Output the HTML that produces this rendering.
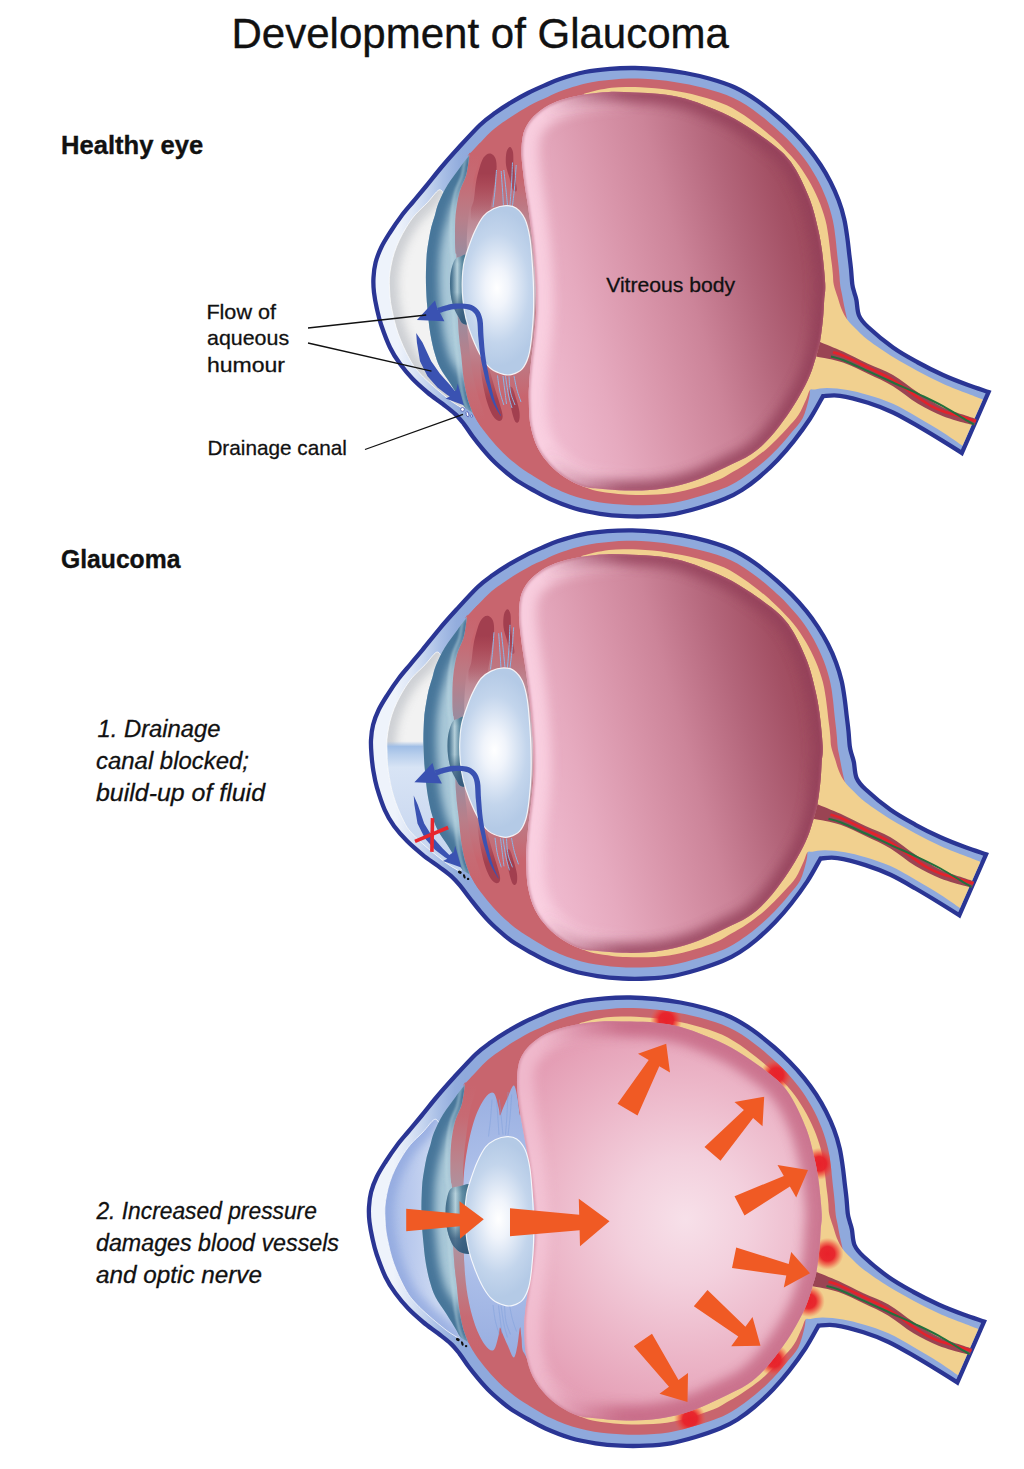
<!DOCTYPE html>
<html><head><meta charset="utf-8"><title>Development of Glaucoma</title>
<style>html,body{margin:0;padding:0;background:#fff}body{width:1024px;height:1469px;overflow:hidden;font-family:"Liberation Sans",sans-serif}svg{display:block}text{font-family:"Liberation Sans",sans-serif}</style></head><body>
<svg width="1024" height="1469" viewBox="0 0 1024 1469"><defs>
<filter id="b1" x="-20%" y="-20%" width="140%" height="140%"><feGaussianBlur stdDeviation="1"/></filter>
<filter id="b5" x="-50%" y="-20%" width="200%" height="140%"><feGaussianBlur stdDeviation="4.5"/></filter>
<filter id="b7" x="-20%" y="-20%" width="140%" height="140%"><feGaussianBlur stdDeviation="5.5"/></filter>
<linearGradient id="scl" gradientUnits="userSpaceOnUse" x1="398" y1="0" x2="470" y2="0">
  <stop offset="0" stop-color="#eef3fb"/><stop offset="0.2" stop-color="#dde6f6"/><stop offset="0.4" stop-color="#c6d5ef"/>
  <stop offset="0.62" stop-color="#a9bfe6"/><stop offset="0.85" stop-color="#93addd"/><stop offset="1" stop-color="#8fa9dc"/>
</linearGradient>
<linearGradient id="vit" gradientUnits="userSpaceOnUse" x1="522" y1="335" x2="826" y2="250">
  <stop offset="0" stop-color="#f0bbd0"/><stop offset="0.2" stop-color="#e6aabf"/><stop offset="0.4" stop-color="#d894a9"/>
  <stop offset="0.55" stop-color="#cc8499"/><stop offset="0.75" stop-color="#b3657a"/><stop offset="0.9" stop-color="#a35064"/><stop offset="1" stop-color="#9c4759"/>
</linearGradient>
<radialGradient id="vit3" gradientUnits="userSpaceOnUse" cx="690" cy="290" r="210">
  <stop offset="0" stop-color="#f7e0e9"/><stop offset="0.3" stop-color="#f3d0dd"/><stop offset="0.65" stop-color="#ecb6c8"/><stop offset="1" stop-color="#e49db4"/>
</radialGradient>
<linearGradient id="post" gradientUnits="userSpaceOnUse" x1="0" y1="150" x2="0" y2="425">
  <stop offset="0" stop-color="#c8656e"/><stop offset="0.1" stop-color="#c8656e"/>
  <stop offset="0.2" stop-color="#bd7782"/><stop offset="0.33" stop-color="#bf9ca8"/>
  <stop offset="0.48" stop-color="#cdbdc8"/><stop offset="0.62" stop-color="#bf9ca8"/>
  <stop offset="0.78" stop-color="#be7883"/><stop offset="0.9" stop-color="#c8656e"/><stop offset="1" stop-color="#c8656e"/>
</linearGradient>
<linearGradient id="post3" gradientUnits="userSpaceOnUse" x1="0" y1="150" x2="0" y2="425">
  <stop offset="0" stop-color="#c8656e"/><stop offset="0.04" stop-color="#b9819a"/>
  <stop offset="0.12" stop-color="#9bb1e2"/><stop offset="0.5" stop-color="#a9bde8"/>
  <stop offset="0.9" stop-color="#9bb1e2"/><stop offset="0.97" stop-color="#b9819a"/><stop offset="1" stop-color="#c8656e"/>
</linearGradient>
<linearGradient id="strkT" gradientUnits="userSpaceOnUse" x1="0" y1="150" x2="0" y2="205">
  <stop offset="0" stop-color="#c8656e"/><stop offset="0.4" stop-color="#cc7a88" stop-opacity="0.9"/><stop offset="1" stop-color="#d8a0b8" stop-opacity="0"/>
</linearGradient>
<linearGradient id="strkB" gradientUnits="userSpaceOnUse" x1="0" y1="426" x2="0" y2="372">
  <stop offset="0" stop-color="#c8656e"/><stop offset="0.4" stop-color="#cc7a88" stop-opacity="0.9"/><stop offset="1" stop-color="#d8a0b8" stop-opacity="0"/>
</linearGradient>
<radialGradient id="blue3" gradientUnits="userSpaceOnUse" cx="500" cy="290" r="140">
  <stop offset="0" stop-color="#c9d6f1"/><stop offset="0.45" stop-color="#aabde8"/><stop offset="1" stop-color="#97ade0"/>
</radialGradient>
<linearGradient id="band1" gradientUnits="userSpaceOnUse" x1="0" y1="155" x2="0" y2="420">
  <stop offset="0" stop-color="#c8656e"/><stop offset="0.1" stop-color="#c66b74"/><stop offset="0.24" stop-color="#b87f8a"/><stop offset="0.38" stop-color="#9a8c9f"/><stop offset="0.5" stop-color="#9690a4"/>
  <stop offset="0.62" stop-color="#9a8c9f"/><stop offset="0.76" stop-color="#b87f8a"/><stop offset="0.9" stop-color="#c66b74"/><stop offset="1" stop-color="#c8656e"/>
</linearGradient>
<linearGradient id="band3" gradientUnits="userSpaceOnUse" x1="0" y1="155" x2="0" y2="420">
  <stop offset="0" stop-color="#c8656e"/><stop offset="0.12" stop-color="#c76a73"/><stop offset="0.3" stop-color="#b98690"/><stop offset="0.5" stop-color="#a3a0b0"/>
  <stop offset="0.7" stop-color="#b98690"/><stop offset="0.88" stop-color="#c76a73"/><stop offset="1" stop-color="#c8656e"/>
</linearGradient>
<linearGradient id="cham3" gradientUnits="userSpaceOnUse" x1="389" y1="0" x2="440" y2="0">
  <stop offset="0" stop-color="#a9bde8"/><stop offset="0.5" stop-color="#b9c9ed"/><stop offset="1" stop-color="#cbd8f2"/>
</linearGradient>
<linearGradient id="fluid" gradientUnits="userSpaceOnUse" x1="0" y1="279" x2="0" y2="410">
  <stop offset="0" stop-color="#a0bee6" stop-opacity="0"/><stop offset="0.04" stop-color="#a0bee6"/><stop offset="0.1" stop-color="#b7ceec"/>
  <stop offset="0.2" stop-color="#d8e4f5"/><stop offset="0.5" stop-color="#d0ddf2"/><stop offset="1" stop-color="#c2d3ee"/>
</linearGradient>
<linearGradient id="cilT" gradientUnits="userSpaceOnUse" x1="0" y1="147" x2="0" y2="222">
  <stop offset="0" stop-color="#a23f4f"/><stop offset="0.35" stop-color="#a23f4f"/><stop offset="1" stop-color="#a23f4f" stop-opacity="0"/>
</linearGradient>
<linearGradient id="cilB" gradientUnits="userSpaceOnUse" x1="0" y1="422" x2="0" y2="360">
  <stop offset="0" stop-color="#a23f4f"/><stop offset="0.35" stop-color="#a23f4f"/><stop offset="1" stop-color="#a23f4f" stop-opacity="0"/>
</linearGradient>
<radialGradient id="lens" gradientUnits="userSpaceOnUse" cx="497" cy="288" r="46" gradientTransform="translate(497 288) scale(1 1.7) translate(-497 -288)">
  <stop offset="0" stop-color="#ffffff"/><stop offset="0.25" stop-color="#f0f4fb"/><stop offset="0.7" stop-color="#c3d5ec"/><stop offset="1" stop-color="#b4cae6"/>
</radialGradient>
<linearGradient id="pup" gradientUnits="userSpaceOnUse" x1="450" y1="0" x2="466" y2="0">
  <stop offset="0" stop-color="#446d8a"/><stop offset="0.12" stop-color="#557f9b"/><stop offset="0.45" stop-color="#cfe6ee"/><stop offset="0.75" stop-color="#6a96ad"/><stop offset="1" stop-color="#4d7a96"/>
</linearGradient>
<linearGradient id="pup3" gradientUnits="userSpaceOnUse" x1="450" y1="0" x2="472" y2="0">
  <stop offset="0" stop-color="#446d8a"/><stop offset="0.12" stop-color="#557f9b"/><stop offset="0.45" stop-color="#cfe6ee"/><stop offset="0.75" stop-color="#6a96ad"/><stop offset="1" stop-color="#4d7a96"/>
</linearGradient>
<linearGradient id="pupv" gradientUnits="userSpaceOnUse" x1="0" y1="256" x2="0" y2="322">
  <stop offset="0" stop-color="#2f5f78" stop-opacity="0.35"/><stop offset="0.12" stop-color="#2f5f78" stop-opacity="0.15"/><stop offset="0.55" stop-color="#2f5f78" stop-opacity="0.2"/><stop offset="0.8" stop-color="#33587a" stop-opacity="0.8"/><stop offset="1" stop-color="#33587a" stop-opacity="0.92"/>
</linearGradient>
<linearGradient id="hg" gradientUnits="userSpaceOnUse" x1="560" y1="0" x2="640" y2="0">
  <stop offset="0" stop-color="#fbd3e3" stop-opacity="1"/><stop offset="1" stop-color="#fbd3e3" stop-opacity="0"/></linearGradient>
<radialGradient id="spot"><stop offset="0" stop-color="#e8212a"/><stop offset="0.45" stop-color="#e8232b" stop-opacity="0.97"/><stop offset="0.7" stop-color="#ee3a34" stop-opacity="0.6"/><stop offset="1" stop-color="#f25a40" stop-opacity="0"/></radialGradient>
</defs><g id="eye1"><path d="M823,396.2C820.8,400 814.9,411.3 810,418.8C805.1,426.3 799.2,434.3 793.8,441.2C788.4,448.1 783.3,453.9 777.5,460C771.7,466.1 764.7,472.5 758.8,477.5C752.9,482.5 747.6,486.4 742,490C736.4,493.6 732,495.9 725,498.8C718,501.7 708.3,505 700,507.5C691.7,510 683.3,512.3 675,513.8C666.7,515.2 658.3,515.8 650,516.2C641.7,516.6 633.3,516.6 625,516.2C616.7,515.8 608.3,515.1 600,513.8C591.7,512.5 583.3,511 575,508.5C566.7,506 557.2,502.2 550,499C542.8,495.8 537.4,492.5 532,489.5C526.6,486.5 521.6,483.7 517.5,481C513.4,478.3 511.2,476.6 507.5,473.5C503.8,470.4 499.2,466.6 495,462.5C490.8,458.4 486.2,453.2 482.5,448.8C478.8,444.4 475.6,440.4 472.5,436.2C469.4,432 466.7,427.5 463.8,423.8C460.9,420.1 458.6,417.1 455,413.8C451.4,410.5 447.1,407.4 442.5,403.8C437.9,400.2 432.5,396.7 427.5,392.5C422.5,388.3 417.1,383.6 412.5,378.8C407.9,374 403.8,369 400,363.8C396.2,358.6 393.1,354 390,347.5C386.9,341 383.4,331.4 381.2,325C379,318.6 378.1,314.2 376.9,308.8C375.7,303.4 374.6,297.7 374,292.5C373.4,287.3 373.2,282.5 373.5,277.5C373.8,272.5 374.3,267.5 375.6,262.5C376.9,257.5 378.8,252.5 381.2,247.5C383.6,242.5 386.7,237.7 390,232.5C393.3,227.3 397.4,221.2 401.2,216.2C404.9,211.2 408.5,207.3 412.5,202.5C416.5,197.7 420.2,193.3 425,187.5C429.8,181.7 435.6,174.2 441.2,167.5C446.8,160.8 452.3,154.6 458.8,147.5C465.3,140.4 474,130.8 480,125C486,119.2 489.7,116.8 495,113C500.3,109.2 506.5,105.2 512,101.9C517.5,98.6 522.7,95.7 528,93C533.3,90.3 538.7,87.9 544,85.6C549.3,83.3 553.2,81.3 560,79C566.8,76.7 576.7,73.7 585,72C593.3,70.3 601.7,69.5 610,68.8C618.3,68.1 626.7,67.9 635,68C643.3,68.1 651.7,68.7 660,69.5C668.3,70.3 676.7,71.5 685,73C693.3,74.5 701.7,76.4 710,78.8C718.3,81.2 727.2,83.9 735,87.5C742.8,91.1 749.8,95.5 757,100.5C764.2,105.5 772.2,112.2 778.4,117.5C784.6,122.8 789.2,127.3 794.3,132.5C799.4,137.7 804.5,143.4 808.9,148.8C813.3,154.2 816.9,159.3 820.5,164.8C824.1,170.3 827.5,176.1 830.5,182C833.5,187.9 836.2,193.9 838.5,200.1C840.8,206.2 842.7,212.5 844.2,218.9C845.7,225.3 846.6,232.5 847.4,238.3C848.2,244.1 848.6,248.6 849.2,253.7C849.8,258.8 850.5,263.9 851,269C851.5,274.1 851.8,280.4 852.3,284.3C852.8,288.2 853.6,289.9 854.3,292.5C855,295.1 855.6,296.2 856.4,300C857.2,303.8 857.1,311 859,315.5C860.9,320 862.3,321.7 868,327C873.7,332.3 884.7,341.6 893,347.5C901.3,353.4 909.7,357.9 918,362.5C926.3,367.1 934.7,371.2 943,375C951.3,378.8 960.4,382.2 968,385C975.6,387.8 985.2,390.8 988.6,392L961.8,453C958.7,451 950.3,445.7 943,441.2C935.7,436.7 926.3,431 918,426.2C909.7,421.4 901.3,416.4 893,412.5C884.7,408.6 876.8,405.6 868,402.8C859.2,400 847.5,396.9 840,395.8C832.5,394.7 825.8,396.1 823,396.2Z" fill="url(#scl)" stroke="#2a3594" stroke-width="4.3" stroke-linejoin="miter"/>
<clipPath id="rca"><path d="M810,390C809.8,391.5 810,394.3 808.8,399C807.6,403.7 805.5,412.6 802.8,418C800,423.5 795.8,427.3 792.3,431.6C788.9,435.9 785.5,439.9 782,443.7C778.6,447.5 775.4,450.9 771.7,454.4C768,458 763.8,461.7 759.9,465C756.1,468.2 752.2,471.2 748.7,473.8C745.2,476.4 742,478.5 738.7,480.5C735.5,482.5 732.8,484.1 729.4,485.8C726,487.4 722.9,488.7 718.5,490.3C714.1,491.9 708.3,493.8 703.2,495.3C698,496.9 692.8,498.4 687.8,499.7C682.7,501 678,502.1 673.1,502.9C668.2,503.7 663.5,504.1 658.5,504.5C653.6,504.9 648.5,505.1 643.5,505.2C638.5,505.3 633.5,505.3 628.5,505.1C623.5,504.9 618.5,504.6 613.5,504.1C608.6,503.6 603.6,503 598.7,502.2C593.8,501.3 588.9,500.4 584,499.1C579.1,497.8 574.2,496.2 569.3,494.4C564.5,492.6 559,490.3 554.8,488.3C550.6,486.3 547.5,484.4 544.1,482.4C540.7,480.5 537.2,478.3 534.1,476.5C531.1,474.6 528.2,472.8 525.8,471.3C523.5,469.8 522,468.8 520,467.3C518.1,465.9 516.3,464.4 514.1,462.6C511.9,460.8 509.1,458.5 506.7,456.3C504.2,454 501.8,451.6 499.4,449C496.9,446.4 494.3,443.3 492,440.7C489.8,438 487.8,435.7 485.9,433.2C484,430.7 482.8,429.4 480.5,425.9C478.3,422.5 477.6,421.8 472.5,412.5C467.4,403.2 455.1,391.2 450,370C444.9,348.8 442,313.3 442,285C442,256.7 445.4,221.7 450,200C454.6,178.3 466.4,162.3 469.4,155C472.4,147.7 466,158.2 468,155.9C470,153.6 477.4,145.6 481.4,141.4C485.5,137.1 489.1,133.4 492.2,130.6C495.3,127.8 497.3,126.5 500.2,124.3C503.2,122.2 506.7,119.7 510.1,117.5C513.4,115.2 516.9,113 520.2,111C523.5,109.1 526.5,107.3 529.6,105.6C532.8,103.9 535.8,102.4 539,100.8C542.2,99.3 545.6,97.8 548.7,96.4C551.9,94.9 554.4,93.6 557.8,92.3C561.2,90.9 564.6,89.7 569.1,88.2C573.5,86.8 579.4,85 584.4,83.8C589.3,82.6 593.9,81.8 598.8,81C603.8,80.3 608.9,79.8 613.9,79.4C618.9,79 623.8,78.6 628.8,78.5C633.8,78.4 638.8,78.6 643.8,78.8C648.9,79 653.9,79.5 659,80C664,80.5 669,81.1 674.1,81.9C679.1,82.6 684.1,83.5 689.1,84.6C694.1,85.6 699,86.8 704.1,88.1C709.1,89.5 714.5,90.9 719.4,92.5C724.3,94.2 728.9,95.9 733.4,98C737.8,100.1 741.9,102.4 746.2,105.1C750.5,107.9 755,111.1 759.3,114.4C763.6,117.6 768.3,121.6 772.1,124.9C775.8,128.1 778.8,130.8 781.9,133.8C785.1,136.9 788.1,139.9 791.1,143.1C794.1,146.3 797.2,149.7 799.8,152.9C802.5,156.2 804.8,159.2 807.1,162.5C809.3,165.7 811.3,168.9 813.3,172.3C815.3,175.6 817.3,179.1 819.1,182.6C820.9,186.1 822.5,189.6 824,193.2C825.6,196.7 826.9,200.3 828.2,203.9C829.4,207.6 830.6,211.2 831.5,214.9C832.5,218.5 833.3,222.1 833.9,225.9C834.6,229.7 835,234.1 835.5,237.7C835.9,241.3 836.2,244.3 836.5,247.6C836.9,250.8 837.1,253.9 837.5,257.1C837.8,260.2 838.3,263.4 838.6,266.5C838.9,269.7 839.2,272.7 839.5,275.9C839.7,279.1 839.8,282.6 840.3,286C840.8,289.3 841.6,292.3 842.3,296C843,299.7 843.8,304.1 844.6,308C845.4,311.9 846.8,317.6 847.2,319.5Z"/><path d="M584,93.8C586.2,93.2 592.4,91.3 597,90.3C601.6,89.3 606.7,88.3 611.5,87.7C616.3,87.2 621.2,87.1 626,87C630.8,86.9 635.7,87 640.5,87.2C645.4,87.4 650.2,87.8 655.1,88.3C660,88.8 665,89.3 669.9,90.1C674.7,90.8 679.6,91.6 684.4,92.6C689.3,93.6 694,94.7 698.9,95.9C703.8,97.2 708.9,98.7 713.6,100.2C718.2,101.8 722.7,103.3 726.8,105.2C731,107.1 734.6,109.2 738.5,111.7C742.5,114.1 746.6,116.9 750.8,119.9C755,123 759.8,126.8 763.7,129.9C767.5,133 770.7,135.7 773.9,138.6C777.1,141.5 779.9,144.2 782.9,147.2C785.8,150.2 789,153.5 791.7,156.5C794.4,159.6 796.8,162.5 799.1,165.5C801.3,168.6 803.3,171.5 805.3,174.7C807.3,177.8 809.3,181.1 811.1,184.4C812.9,187.7 814.6,191 816.1,194.4C817.7,197.7 819.1,201.1 820.4,204.5C821.7,207.9 822.9,211.4 823.9,214.8C825,218.2 825.8,221.5 826.6,225.1C827.3,228.6 827.8,232.7 828.4,236.3C828.9,239.9 829.3,243.2 829.7,246.5C830.1,249.8 830.4,252.7 830.7,255.8C831.1,259 831.6,262.4 832,265.5C832.3,268.5 832.6,271.2 832.9,274.4C833.2,277.6 833,281 833.8,284.7C834.6,288.5 836.3,293 837.6,297C838.9,301 839.9,305.2 841.5,309C843.1,312.8 844.8,316.2 847.2,319.5C849.6,322.8 852.5,325.6 856,329C859.5,332.4 861.8,335.3 868,340C874.2,344.7 884.7,351.8 893,357C901.3,362.2 909.7,366.7 918,371.2C926.3,375.7 934.7,380 943,383.8C951.3,387.6 961.4,391.2 968,393.8C974.6,396.4 980.3,398.6 982.8,399.6L962.5,445.8C959.2,443.6 950.4,437.2 943,432.5C935.6,427.8 926.3,422.3 918,417.5C909.7,412.7 901.3,407.6 893,403.8C884.7,400.1 875.6,397.3 868,395C860.4,392.7 854.2,391.2 847.5,390C840.8,388.8 832.9,388.1 827.5,388C822.1,387.9 817.9,389.1 815,389.4C812.1,389.7 811.5,388.4 810,390C808.5,391.6 808.2,394.8 806.3,399C804.4,403.2 801.5,410.3 798.4,415.1C795.3,419.9 791.1,423.9 787.5,428C783.9,432 780.4,435.8 776.8,439.3C773.3,442.9 770.1,446 766.3,449.2C762.5,452.4 758,455.7 754.1,458.6C750.2,461.4 746.2,464.1 742.6,466.3C739.1,468.5 736,470 733,471.8C730,473.5 727.7,475.2 724.7,476.7C721.7,478.3 718.9,479.5 714.9,481.1C710.8,482.7 705.2,484.7 700.2,486.3C695.3,487.8 690,489.3 685.2,490.5C680.4,491.7 676,492.6 671.4,493.3C666.9,494 662.5,494.3 657.8,494.6C653.1,494.9 648.1,495 643.2,495C638.4,495 633.7,495 628.9,494.7C624.1,494.5 619.9,494.2 614.5,493.6C609.2,493 602.3,492.2 597,491C591.7,489.8 584.9,487 582.5,486.2Z"/></clipPath>
<path d="M810,390C809.8,391.5 810,394.3 808.8,399C807.6,403.7 805.5,412.6 802.8,418C800,423.5 795.8,427.3 792.3,431.6C788.9,435.9 785.5,439.9 782,443.7C778.6,447.5 775.4,450.9 771.7,454.4C768,458 763.8,461.7 759.9,465C756.1,468.2 752.2,471.2 748.7,473.8C745.2,476.4 742,478.5 738.7,480.5C735.5,482.5 732.8,484.1 729.4,485.8C726,487.4 722.9,488.7 718.5,490.3C714.1,491.9 708.3,493.8 703.2,495.3C698,496.9 692.8,498.4 687.8,499.7C682.7,501 678,502.1 673.1,502.9C668.2,503.7 663.5,504.1 658.5,504.5C653.6,504.9 648.5,505.1 643.5,505.2C638.5,505.3 633.5,505.3 628.5,505.1C623.5,504.9 618.5,504.6 613.5,504.1C608.6,503.6 603.6,503 598.7,502.2C593.8,501.3 588.9,500.4 584,499.1C579.1,497.8 574.2,496.2 569.3,494.4C564.5,492.6 559,490.3 554.8,488.3C550.6,486.3 547.5,484.4 544.1,482.4C540.7,480.5 537.2,478.3 534.1,476.5C531.1,474.6 528.2,472.8 525.8,471.3C523.5,469.8 522,468.8 520,467.3C518.1,465.9 516.3,464.4 514.1,462.6C511.9,460.8 509.1,458.5 506.7,456.3C504.2,454 501.8,451.6 499.4,449C496.9,446.4 494.3,443.3 492,440.7C489.8,438 487.8,435.7 485.9,433.2C484,430.7 482.8,429.4 480.5,425.9C478.3,422.5 477.6,421.8 472.5,412.5C467.4,403.2 455.1,391.2 450,370C444.9,348.8 442,313.3 442,285C442,256.7 445.4,221.7 450,200C454.6,178.3 466.4,162.3 469.4,155C472.4,147.7 466,158.2 468,155.9C470,153.6 477.4,145.6 481.4,141.4C485.5,137.1 489.1,133.4 492.2,130.6C495.3,127.8 497.3,126.5 500.2,124.3C503.2,122.2 506.7,119.7 510.1,117.5C513.4,115.2 516.9,113 520.2,111C523.5,109.1 526.5,107.3 529.6,105.6C532.8,103.9 535.8,102.4 539,100.8C542.2,99.3 545.6,97.8 548.7,96.4C551.9,94.9 554.4,93.6 557.8,92.3C561.2,90.9 564.6,89.7 569.1,88.2C573.5,86.8 579.4,85 584.4,83.8C589.3,82.6 593.9,81.8 598.8,81C603.8,80.3 608.9,79.8 613.9,79.4C618.9,79 623.8,78.6 628.8,78.5C633.8,78.4 638.8,78.6 643.8,78.8C648.9,79 653.9,79.5 659,80C664,80.5 669,81.1 674.1,81.9C679.1,82.6 684.1,83.5 689.1,84.6C694.1,85.6 699,86.8 704.1,88.1C709.1,89.5 714.5,90.9 719.4,92.5C724.3,94.2 728.9,95.9 733.4,98C737.8,100.1 741.9,102.4 746.2,105.1C750.5,107.9 755,111.1 759.3,114.4C763.6,117.6 768.3,121.6 772.1,124.9C775.8,128.1 778.8,130.8 781.9,133.8C785.1,136.9 788.1,139.9 791.1,143.1C794.1,146.3 797.2,149.7 799.8,152.9C802.5,156.2 804.8,159.2 807.1,162.5C809.3,165.7 811.3,168.9 813.3,172.3C815.3,175.6 817.3,179.1 819.1,182.6C820.9,186.1 822.5,189.6 824,193.2C825.6,196.7 826.9,200.3 828.2,203.9C829.4,207.6 830.6,211.2 831.5,214.9C832.5,218.5 833.3,222.1 833.9,225.9C834.6,229.7 835,234.1 835.5,237.7C835.9,241.3 836.2,244.3 836.5,247.6C836.9,250.8 837.1,253.9 837.5,257.1C837.8,260.2 838.3,263.4 838.6,266.5C838.9,269.7 839.2,272.7 839.5,275.9C839.7,279.1 839.8,282.6 840.3,286C840.8,289.3 841.6,292.3 842.3,296C843,299.7 843.8,304.1 844.6,308C845.4,311.9 846.8,317.6 847.2,319.5Z" fill="#c8656e"/>
<path d="M584,93.8C586.2,93.2 592.4,91.3 597,90.3C601.6,89.3 606.7,88.3 611.5,87.7C616.3,87.2 621.2,87.1 626,87C630.8,86.9 635.7,87 640.5,87.2C645.4,87.4 650.2,87.8 655.1,88.3C660,88.8 665,89.3 669.9,90.1C674.7,90.8 679.6,91.6 684.4,92.6C689.3,93.6 694,94.7 698.9,95.9C703.8,97.2 708.9,98.7 713.6,100.2C718.2,101.8 722.7,103.3 726.8,105.2C731,107.1 734.6,109.2 738.5,111.7C742.5,114.1 746.6,116.9 750.8,119.9C755,123 759.8,126.8 763.7,129.9C767.5,133 770.7,135.7 773.9,138.6C777.1,141.5 779.9,144.2 782.9,147.2C785.8,150.2 789,153.5 791.7,156.5C794.4,159.6 796.8,162.5 799.1,165.5C801.3,168.6 803.3,171.5 805.3,174.7C807.3,177.8 809.3,181.1 811.1,184.4C812.9,187.7 814.6,191 816.1,194.4C817.7,197.7 819.1,201.1 820.4,204.5C821.7,207.9 822.9,211.4 823.9,214.8C825,218.2 825.8,221.5 826.6,225.1C827.3,228.6 827.8,232.7 828.4,236.3C828.9,239.9 829.3,243.2 829.7,246.5C830.1,249.8 830.4,252.7 830.7,255.8C831.1,259 831.6,262.4 832,265.5C832.3,268.5 832.6,271.2 832.9,274.4C833.2,277.6 833,281 833.8,284.7C834.6,288.5 836.3,293 837.6,297C838.9,301 839.9,305.2 841.5,309C843.1,312.8 844.8,316.2 847.2,319.5C849.6,322.8 852.5,325.6 856,329C859.5,332.4 861.8,335.3 868,340C874.2,344.7 884.7,351.8 893,357C901.3,362.2 909.7,366.7 918,371.2C926.3,375.7 934.7,380 943,383.8C951.3,387.6 961.4,391.2 968,393.8C974.6,396.4 980.3,398.6 982.8,399.6L962.5,445.8C959.2,443.6 950.4,437.2 943,432.5C935.6,427.8 926.3,422.3 918,417.5C909.7,412.7 901.3,407.6 893,403.8C884.7,400.1 875.6,397.3 868,395C860.4,392.7 854.2,391.2 847.5,390C840.8,388.8 832.9,388.1 827.5,388C822.1,387.9 817.9,389.1 815,389.4C812.1,389.7 811.5,388.4 810,390C808.5,391.6 808.2,394.8 806.3,399C804.4,403.2 801.5,410.3 798.4,415.1C795.3,419.9 791.1,423.9 787.5,428C783.9,432 780.4,435.8 776.8,439.3C773.3,442.9 770.1,446 766.3,449.2C762.5,452.4 758,455.7 754.1,458.6C750.2,461.4 746.2,464.1 742.6,466.3C739.1,468.5 736,470 733,471.8C730,473.5 727.7,475.2 724.7,476.7C721.7,478.3 718.9,479.5 714.9,481.1C710.8,482.7 705.2,484.7 700.2,486.3C695.3,487.8 690,489.3 685.2,490.5C680.4,491.7 676,492.6 671.4,493.3C666.9,494 662.5,494.3 657.8,494.6C653.1,494.9 648.1,495 643.2,495C638.4,495 633.7,495 628.9,494.7C624.1,494.5 619.9,494.2 614.5,493.6C609.2,493 602.3,492.2 597,491C591.7,489.8 584.9,487 582.5,486.2Z" fill="#f1d08f"/>
<path d="M820,341.9C823.8,343.5 835,347.9 843,351.5C851,355.1 859.7,359.9 868,363.8C876.3,367.7 884.7,370.2 893,375C901.3,379.8 909.7,387.1 918,392.5C926.3,397.9 934.7,403.6 943,407.5C951.3,411.4 962.4,414.3 968,416.2C973.6,418.1 975.1,418.5 976.5,419L974.5,425.3C973.4,425.1 973.2,425.3 968,423.8C962.8,422.3 951.3,419.5 943,416.2C934.7,412.9 926.3,408.8 918,403.8C909.7,398.8 901.3,391.2 893,386.2C884.7,381.2 876.3,377.8 868,373.8C859.7,369.9 851.6,365.4 843,362.5C834.4,359.6 820.7,357.5 816.2,356.5Z" fill="#9a4453"/>
<path d="M833,352.3C834.7,352.8 837.2,353 843,355.5C848.8,358 859.7,363.4 868,367.5C876.3,371.6 884.7,375 893,380C901.3,385 911.8,393.2 918,397.5C924.2,401.8 926.3,403.3 930.5,405.6C934.7,407.9 936.8,409 943,411.2C949.2,413.4 962.5,417.1 968,418.8C973.5,420.5 974.7,420.9 976,421.3" fill="none" stroke="#e3222b" stroke-width="2.6"/>
<path d="M831,356.5C833,357.1 836.8,357.6 843,360C849.2,362.4 859.7,367.4 868,371.2C876.3,374.9 884.7,378.7 893,382.5C901.3,386.3 909.7,389.9 918,393.8C926.3,397.8 934.7,401.6 943,406.2C951.3,410.8 962.8,418.1 968,421.2C973.2,424.3 973,424 974,424.6" fill="none" stroke="#23703d" stroke-width="2"/>
<g clip-path="url(#rca)">
<path d="M469.4,155C471.7,149.7 471.3,143.8 480,143C488.7,142.2 514.2,143.8 521.5,150C528.8,156.2 523,170.8 524,180C525,189.2 526.4,195.4 527.8,205C529.2,214.6 530.8,223.8 532.2,237.5C533.6,251.2 535.7,270.8 536,287.5C536.3,304.2 535.1,321.6 534,337.5C532.9,353.4 529.8,368.4 529.2,383C528.6,397.6 538.3,417.6 530.5,425C522.7,432.4 492.2,429.6 482.5,427.5C472.8,425.4 475.6,420.4 472.5,412.5C469.4,404.6 466.2,395.2 463.8,380C461.4,364.8 459.2,341.4 458,321C456.8,300.6 456.9,275.2 456.5,257.5C456.1,239.8 455.1,225.9 455.6,215C456.1,204.1 457.7,198.7 459.5,192C461.3,185.3 464.6,181.2 466.2,175C467.8,168.8 467.1,160.3 469.4,155Z" fill="url(#post)"/>
<path d="M472.5,412.5C469.6,409 468.9,404.2 467.5,398.8C466.1,393.4 464.9,387.3 463.8,380C462.8,372.7 461.9,361.7 461.2,355C460.5,348.3 459.9,345.7 459.4,340C458.9,334.3 458.4,329.3 458,321C457.6,312.7 457.2,300.6 457,290C456.8,279.4 456.7,263.8 456.5,257.5C456.3,251.2 455.9,255.4 455.6,252.5C455.4,249.6 455,246.2 455,240C455,233.8 454.9,223 455.6,215C456.4,207 457.7,198.7 459.5,192C461.3,185.3 464.6,181.2 466.2,175C467.8,168.8 467.1,158.3 469.4,155C471.7,151.7 479.3,150.8 480,155C480.7,159.2 475.2,172.1 473.5,180.5C471.8,188.9 470.9,197.2 469.8,205.5C468.8,213.8 467.7,221.9 467.2,230.5C466.7,239.1 466.8,241.9 466.8,257C466.8,272.1 466.6,306.3 467,321C467.4,335.7 468.2,336.8 469,345C469.8,353.2 470.7,362.2 472,370C473.3,377.8 474.8,383.7 477,392C479.2,400.3 485.8,416.6 485,420C484.2,423.4 475.4,416 472.5,412.5Z" fill="url(#band1)"/>
<path d="M491.2,153.8C492.8,154.4 494.7,156.1 495.6,158.8C496.5,161.5 496.8,165.2 496.5,170C496.2,174.8 494.9,181.7 494,187.5C493.1,193.3 492.2,199.2 491,205C489.8,210.8 490,219.2 487,222C484,224.8 475.7,224 473,222C470.3,220 470.9,213.7 471,210C471.1,206.3 472.9,204.8 473.8,200C474.7,195.2 475,187.4 476.2,181.2C477.4,174.9 479.6,166.9 481.2,162.5C482.8,158.1 484.3,156.4 486,155C487.7,153.6 489.6,153.2 491.2,153.8Z" fill="url(#cilT)"/>
<path d="M510,147C511.1,147 512.4,149 513,152C513.6,155 513.2,160.7 513.5,165C513.8,169.3 514.4,173.8 515,178C515.6,182.2 517.3,188 517,190C516.7,192 514.2,192 513,190C511.8,188 510.7,182.2 509.5,178C508.3,173.8 506.5,169.3 506,165C505.5,160.7 505.8,155 506.5,152C507.2,149 508.9,147 510,147Z" fill="url(#cilT)"/>
<path d="M486.5,360C488.2,362.5 489.4,369.7 491,375C492.6,380.3 494.2,386.2 496,392C497.8,397.8 500.4,405.7 501.5,410C502.6,414.3 502.9,416.2 502.5,418C502.1,419.8 500.6,421.3 499,421C497.4,420.7 494.8,418.7 493,416C491.2,413.3 489.5,409.3 488,405C486.5,400.7 485.2,395.5 484,390C482.8,384.5 481.6,377 481,372C480.4,367 479.6,362 480.5,360C481.4,358 484.8,357.5 486.5,360Z" fill="url(#cilB)"/>
<path d="M509,388C509.4,386 511.2,386 512.5,388C513.8,390 515.3,396 516.5,400C517.7,404 519.1,408.5 519.5,412C519.9,415.5 519.7,419.3 519,421C518.3,422.7 516.7,423.5 515.5,422C514.3,420.5 512.9,415.7 512,412C511.1,408.3 510.5,404 510,400C509.5,396 508.6,390 509,388Z" fill="url(#cilB)"/>
<path d="M496.5,170C496.2,173.3 495.6,183.8 495,190C494.4,196.2 493.3,204.2 493,207" fill="none" stroke="#8cb6e6" stroke-width="1"/>
<path d="M501.2,171C501.4,174.2 502.1,184.2 502.5,190C502.9,195.8 503.3,202.9 503.5,205.5" fill="none" stroke="#8cb6e6" stroke-width="1"/>
<path d="M503.8,170C504.2,173.3 505.4,184.1 506,190C506.6,195.9 507.2,202.7 507.5,205.2" fill="none" stroke="#8cb6e6" stroke-width="1"/>
<path d="M512.5,162.5C512.3,166.2 511.9,177.9 511.5,185C511.1,192.1 510.2,201.9 510,205.3" fill="none" stroke="#8cb6e6" stroke-width="1"/>
<path d="M516.2,165C515.9,168.8 515.1,181.2 514.5,188C513.9,194.8 512.8,202.8 512.5,205.8" fill="none" stroke="#8cb6e6" stroke-width="1"/>
<path d="M497.5,375.5C497.9,378.2 498.9,387.1 500,392C501.1,396.9 503.2,402.8 503.8,405" fill="none" stroke="#8cb6e6" stroke-width="1"/>
<path d="M503,376C503.3,378.7 504.4,387.3 505,392C505.6,396.7 506.2,402 506.5,404" fill="none" stroke="#8cb6e6" stroke-width="1"/>
<path d="M509,376.3C509.2,378.9 509.5,387.2 510.5,392C511.5,396.8 514.2,402.8 515,405" fill="none" stroke="#8cb6e6" stroke-width="1"/>
<path d="M514,375.8C514.5,378.2 515.8,385.6 517,390C518.2,394.4 520.3,400 521,402" fill="none" stroke="#8cb6e6" stroke-width="1"/>
<path d="M505.5,376.2C506,379.3 507.4,389.7 508.5,395C509.6,400.3 511.4,405.8 512,408" fill="none" stroke="#8cb6e6" stroke-width="1"/>
</g>
<linearGradient id="sga" gradientUnits="userSpaceOnUse" x1="545" y1="0" x2="625" y2="0"><stop offset="0" stop-color="#93405a" stop-opacity="0"/><stop offset="1" stop-color="#93405a" stop-opacity="1"/></linearGradient>
<clipPath id="vca"><path d="M584,94.5C591.3,93.3 600.5,92.2 609,91.9C617.5,91.6 626.5,92.2 635,92.5C643.5,92.8 651.7,93 660,94C668.3,95 676.7,96.2 685,98.5C693.3,100.8 701.7,104.1 710,107.5C718.3,110.9 726.7,114.4 735,119C743.3,123.6 752.2,129.5 760,135C767.8,140.5 775.9,146.2 781.9,152C787.9,157.8 791.3,162 796,170C800.7,178 806.4,190.6 810,200C813.6,209.4 815.5,218.4 817.5,226.7C819.5,235 820.6,240.5 821.9,250C823.2,259.5 824.8,275.3 825.2,283.6C825.6,291.9 824.6,294.1 824.2,300C823.8,305.9 823.7,311.8 823,318.8C822.3,325.8 821.1,335.7 820,341.9C818.9,348.1 817.9,350.7 816.2,356.2C814.5,361.7 812.7,368.5 810,375C807.3,381.5 803.8,388.3 800,395C796.2,401.7 792.5,407.9 787.5,415C782.5,422.1 776,431 770,437.5C764,444 759,449 751.5,454C744,459 733.6,463.4 725,467.5C716.4,471.6 708.3,475.7 700,478.8C691.7,481.9 683.3,484.3 675,486.2C666.7,488.1 658.3,489.3 650,490C641.7,490.7 633.3,490.7 625,490.5C616.7,490.3 607.1,489.5 600,488.8C592.9,488.1 588.3,488.1 582.5,486.2C576.7,484.3 570.4,481 565,477.5C559.6,474 554.6,470 550,465C545.4,460 540.8,454.2 537.5,447.5C534.2,440.8 532,432.9 530.5,425C529,417.1 529,407 528.8,400C528.6,393 528.8,389.2 529.2,383C529.6,376.8 530.2,370.1 531,362.5C531.8,354.9 533.2,345.8 534,337.5C534.8,329.2 535.7,320.8 536,312.5C536.3,304.2 536.2,295.8 536,287.5C535.8,279.2 535.1,270.8 534.5,262.5C533.9,254.2 533.3,247.1 532.2,237.5C531.1,227.9 529.2,214.6 527.8,205C526.4,195.4 525,188.3 524,180C523,171.7 521.7,162.3 521.5,155C521.3,147.7 521.8,141.4 522.8,136.2C523.8,131 525.5,127.5 527.8,123.8C530.1,120.1 533,116.9 536.5,113.8C540,110.7 544.2,107.5 549,105C553.8,102.5 559.4,100.5 565.2,98.8C571,97 576.7,95.7 584,94.5Z"/></clipPath>
<path d="M584,94.5C591.3,93.3 600.5,92.2 609,91.9C617.5,91.6 626.5,92.2 635,92.5C643.5,92.8 651.7,93 660,94C668.3,95 676.7,96.2 685,98.5C693.3,100.8 701.7,104.1 710,107.5C718.3,110.9 726.7,114.4 735,119C743.3,123.6 752.2,129.5 760,135C767.8,140.5 775.9,146.2 781.9,152C787.9,157.8 791.3,162 796,170C800.7,178 806.4,190.6 810,200C813.6,209.4 815.5,218.4 817.5,226.7C819.5,235 820.6,240.5 821.9,250C823.2,259.5 824.8,275.3 825.2,283.6C825.6,291.9 824.6,294.1 824.2,300C823.8,305.9 823.7,311.8 823,318.8C822.3,325.8 821.1,335.7 820,341.9C818.9,348.1 817.9,350.7 816.2,356.2C814.5,361.7 812.7,368.5 810,375C807.3,381.5 803.8,388.3 800,395C796.2,401.7 792.5,407.9 787.5,415C782.5,422.1 776,431 770,437.5C764,444 759,449 751.5,454C744,459 733.6,463.4 725,467.5C716.4,471.6 708.3,475.7 700,478.8C691.7,481.9 683.3,484.3 675,486.2C666.7,488.1 658.3,489.3 650,490C641.7,490.7 633.3,490.7 625,490.5C616.7,490.3 607.1,489.5 600,488.8C592.9,488.1 588.3,488.1 582.5,486.2C576.7,484.3 570.4,481 565,477.5C559.6,474 554.6,470 550,465C545.4,460 540.8,454.2 537.5,447.5C534.2,440.8 532,432.9 530.5,425C529,417.1 529,407 528.8,400C528.6,393 528.8,389.2 529.2,383C529.6,376.8 530.2,370.1 531,362.5C531.8,354.9 533.2,345.8 534,337.5C534.8,329.2 535.7,320.8 536,312.5C536.3,304.2 536.2,295.8 536,287.5C535.8,279.2 535.1,270.8 534.5,262.5C533.9,254.2 533.3,247.1 532.2,237.5C531.1,227.9 529.2,214.6 527.8,205C526.4,195.4 525,188.3 524,180C523,171.7 521.7,162.3 521.5,155C521.3,147.7 521.8,141.4 522.8,136.2C523.8,131 525.5,127.5 527.8,123.8C530.1,120.1 533,116.9 536.5,113.8C540,110.7 544.2,107.5 549,105C553.8,102.5 559.4,100.5 565.2,98.8C571,97 576.7,95.7 584,94.5Z" fill="url(#vit)"/>
<g clip-path="url(#vca)"><path d="M675,486.2C670.8,486.8 658.3,489.3 650,490C641.7,490.7 633.3,490.7 625,490.5C616.7,490.3 607.1,489.5 600,488.8C592.9,488.1 588.3,488.1 582.5,486.2C576.7,484.3 570.4,481 565,477.5C559.6,474 554.6,470 550,465C545.4,460 540.8,454.2 537.5,447.5C534.2,440.8 532,432.9 530.5,425C529,417.1 529,407 528.8,400C528.6,393 528.8,389.2 529.2,383C529.6,376.8 530.2,370.1 531,362.5C531.8,354.9 533.2,345.8 534,337.5C534.8,329.2 535.7,320.8 536,312.5C536.3,304.2 536.2,295.8 536,287.5C535.8,279.2 535.1,270.8 534.5,262.5C533.9,254.2 533.3,247.1 532.2,237.5C531.1,227.9 529.2,214.6 527.8,205C526.4,195.4 525,188.3 524,180C523,171.7 521.7,162.3 521.5,155C521.3,147.7 521.8,141.4 522.8,136.2C523.8,131 525.5,127.5 527.8,123.8C530.1,120.1 533,116.9 536.5,113.8C540,110.7 544.2,107.5 549,105C553.8,102.5 559.4,100.5 565.2,98.8C571,97 576.7,95.7 584,94.5C591.3,93.3 600.5,92.2 609,91.9C617.5,91.6 626.5,92.2 635,92.5C643.5,92.8 655.8,93.8 660,94" fill="none" stroke="url(#hg)" stroke-width="34" opacity="0.85" filter="url(#b7)"/></g>
<g clip-path="url(#vca)"><path d="M527.8,123.8C529.2,122.1 533,116.9 536.5,113.8C540,110.7 544.2,107.5 549,105C553.8,102.5 559.4,100.5 565.2,98.8C571,97 576.7,95.7 584,94.5C591.3,93.3 600.5,92.2 609,91.9C617.5,91.6 626.5,92.2 635,92.5C643.5,92.8 651.7,93 660,94C668.3,95 676.7,96.2 685,98.5C693.3,100.8 701.7,104.1 710,107.5C718.3,110.9 726.7,114.4 735,119C743.3,123.6 752.2,129.5 760,135C767.8,140.5 775.9,146.2 781.9,152C787.9,157.8 791.3,162 796,170C800.7,178 806.4,190.6 810,200C813.6,209.4 815.5,218.4 817.5,226.7C819.5,235 820.6,240.5 821.9,250C823.2,259.5 824.8,275.3 825.2,283.6C825.6,291.9 824.6,294.1 824.2,300C823.8,305.9 823.7,311.8 823,318.8C822.3,325.8 821.1,335.7 820,341.9C818.9,348.1 817.9,350.7 816.2,356.2C814.5,361.7 812.7,368.5 810,375C807.3,381.5 803.8,388.3 800,395C796.2,401.7 792.5,407.9 787.5,415C782.5,422.1 776,431 770,437.5C764,444 759,449 751.5,454C744,459 733.6,463.4 725,467.5C716.4,471.6 708.3,475.7 700,478.8C691.7,481.9 683.3,484.3 675,486.2C666.7,488.1 658.3,489.3 650,490C641.7,490.7 633.3,490.7 625,490.5C616.7,490.3 607.1,489.5 600,488.8C592.9,488.1 588.3,488.1 582.5,486.2C576.7,484.3 570.4,481 565,477.5C559.6,474 554.6,470 550,465C545.4,460 540.8,454.2 537.5,447.5C534.2,440.8 531.7,428.8 530.5,425" fill="none" stroke="url(#sga)" stroke-width="21" opacity="0.8" filter="url(#b7)"/><path d="M584,94.5C591.3,93.3 600.5,92.2 609,91.9C617.5,91.6 626.5,92.2 635,92.5C643.5,92.8 651.7,93 660,94C668.3,95 676.7,96.2 685,98.5C693.3,100.8 701.7,104.1 710,107.5C718.3,110.9 726.7,114.4 735,119C743.3,123.6 752.2,129.5 760,135C767.8,140.5 775.9,146.2 781.9,152C787.9,157.8 791.3,162 796,170C800.7,178 806.4,190.6 810,200C813.6,209.4 815.5,218.4 817.5,226.7C819.5,235 820.6,240.5 821.9,250C823.2,259.5 824.8,275.3 825.2,283.6C825.6,291.9 824.6,294.1 824.2,300C823.8,305.9 823.7,311.8 823,318.8C822.3,325.8 821.1,335.7 820,341.9C818.9,348.1 817.9,350.7 816.2,356.2C814.5,361.7 812.7,368.5 810,375C807.3,381.5 803.8,388.3 800,395C796.2,401.7 792.5,407.9 787.5,415C782.5,422.1 776,431 770,437.5C764,444 759,449 751.5,454C744,459 733.6,463.4 725,467.5C716.4,471.6 708.3,475.7 700,478.8C691.7,481.9 683.3,484.3 675,486.2C666.7,488.1 658.3,489.3 650,490C641.7,490.7 633.3,490.7 625,490.5C616.7,490.3 607.1,489.5 600,488.8C592.9,488.1 588.3,488.1 582.5,486.2C576.7,484.3 570.4,481 565,477.5C559.6,474 554.6,470 550,465C545.4,460 540.8,454.2 537.5,447.5C534.2,440.8 532,432.9 530.5,425C529,417.1 529,407 528.8,400C528.6,393 528.8,389.2 529.2,383C529.6,376.8 530.2,370.1 531,362.5C531.8,354.9 533.2,345.8 534,337.5C534.8,329.2 535.7,320.8 536,312.5C536.3,304.2 536.2,295.8 536,287.5C535.8,279.2 535.1,270.8 534.5,262.5C533.9,254.2 533.3,247.1 532.2,237.5C531.1,227.9 529.2,214.6 527.8,205C526.4,195.4 525,188.3 524,180C523,171.7 521.7,162.3 521.5,155C521.3,147.7 521.8,141.4 522.8,136.2C523.8,131 525.5,127.5 527.8,123.8C530.1,120.1 533,116.9 536.5,113.8C540,110.7 544.2,107.5 549,105C553.8,102.5 559.4,100.5 565.2,98.8C571,97 576.7,95.7 584,94.5Z" fill="none" stroke="#b86078" stroke-width="3" opacity="0.5" filter="url(#b1)"/></g>
<clipPath id="cca"><path d="M444,194C443.1,193.3 441.6,188.6 438.8,190C436.1,191.4 431.5,198.3 427.5,202.5C423.5,206.7 418.6,210.8 415,215C411.4,219.2 408.8,223.3 406.2,227.5C403.6,231.7 401.4,235.8 399.4,240C397.4,244.2 395.8,248.3 394.4,252.5C393,256.7 392,260.8 391.2,265C390.4,269.2 389.7,273.3 389.4,277.5C389.1,281.7 389.4,285.8 389.6,290C389.8,294.2 390,298.3 390.6,302.5C391.2,306.7 392.2,310.8 393.1,315C394,319.2 394.9,323.3 396.2,327.5C397.4,331.7 398.9,335.8 400.6,340C402.3,344.2 404.1,348.3 406.2,352.5C408.3,356.7 410.8,361.5 413.1,365C415.4,368.5 417.6,370.8 420,373.5C422.4,376.2 424.2,377.9 427.5,381C430.8,384.1 435.8,388.5 440,392C444.2,395.5 448.6,399.2 452.5,402C456.4,404.8 461.7,407.8 463.5,409L465,407.5C464.2,406.2 462.8,403.8 460.5,400C458.2,396.2 454.4,389.9 451,384.5C447.6,379.1 442.8,372.8 440,367.5C437.2,362.2 435.9,357.1 434.5,352.5C433.1,347.9 432.4,344.2 431.5,340C430.6,335.8 430,331.7 429.4,327.5C428.8,323.3 428.5,319.2 428.1,315C427.7,310.8 427.2,306.7 426.9,302.5C426.6,298.3 426.4,294.2 426.2,290C426,285.8 425.9,281.7 425.9,277.5C425.9,273.3 426,269.2 426.2,265C426.4,260.8 426.5,256.7 426.9,252.5C427.3,248.3 428.1,244.2 428.8,240C429.5,235.8 430.2,231.7 431.2,227.5C432.2,223.3 433.8,219.1 435,215C436.2,210.9 436.4,208 438.5,203C440.6,198 446,188 447.5,185Z"/></clipPath>
<path d="M444,194C443.1,193.3 441.6,188.6 438.8,190C436.1,191.4 431.5,198.3 427.5,202.5C423.5,206.7 418.6,210.8 415,215C411.4,219.2 408.8,223.3 406.2,227.5C403.6,231.7 401.4,235.8 399.4,240C397.4,244.2 395.8,248.3 394.4,252.5C393,256.7 392,260.8 391.2,265C390.4,269.2 389.7,273.3 389.4,277.5C389.1,281.7 389.4,285.8 389.6,290C389.8,294.2 390,298.3 390.6,302.5C391.2,306.7 392.2,310.8 393.1,315C394,319.2 394.9,323.3 396.2,327.5C397.4,331.7 398.9,335.8 400.6,340C402.3,344.2 404.1,348.3 406.2,352.5C408.3,356.7 410.8,361.5 413.1,365C415.4,368.5 417.6,370.8 420,373.5C422.4,376.2 424.2,377.9 427.5,381C430.8,384.1 435.8,388.5 440,392C444.2,395.5 448.6,399.2 452.5,402C456.4,404.8 461.7,407.8 463.5,409L465,407.5C464.2,406.2 462.8,403.8 460.5,400C458.2,396.2 454.4,389.9 451,384.5C447.6,379.1 442.8,372.8 440,367.5C437.2,362.2 435.9,357.1 434.5,352.5C433.1,347.9 432.4,344.2 431.5,340C430.6,335.8 430,331.7 429.4,327.5C428.8,323.3 428.5,319.2 428.1,315C427.7,310.8 427.2,306.7 426.9,302.5C426.6,298.3 426.4,294.2 426.2,290C426,285.8 425.9,281.7 425.9,277.5C425.9,273.3 426,269.2 426.2,265C426.4,260.8 426.5,256.7 426.9,252.5C427.3,248.3 428.1,244.2 428.8,240C429.5,235.8 430.2,231.7 431.2,227.5C432.2,223.3 433.8,219.1 435,215C436.2,210.9 436.4,208 438.5,203C440.6,198 446,188 447.5,185Z" fill="#f2f2f2"/>
<g clip-path="url(#cca)"><path d="M444,194C443.1,193.3 441.6,188.6 438.8,190C436.1,191.4 431.5,198.3 427.5,202.5C423.5,206.7 418.6,210.8 415,215C411.4,219.2 408.8,223.3 406.2,227.5C403.6,231.7 401.4,235.8 399.4,240C397.4,244.2 395.8,248.3 394.4,252.5C393,256.7 392,260.8 391.2,265C390.4,269.2 389.7,273.3 389.4,277.5C389.1,281.7 389.4,285.8 389.6,290C389.8,294.2 390,298.3 390.6,302.5C391.2,306.7 392.2,310.8 393.1,315C394,319.2 394.9,323.3 396.2,327.5C397.4,331.7 398.9,335.8 400.6,340C402.3,344.2 404.1,348.3 406.2,352.5C408.3,356.7 410.8,361.5 413.1,365C415.4,368.5 417.6,370.8 420,373.5C422.4,376.2 424.2,377.9 427.5,381C430.8,384.1 435.8,388.5 440,392C444.2,395.5 448.6,399.2 452.5,402C456.4,404.8 461.7,407.8 463.5,409" fill="none" stroke="#c4c7cc" stroke-width="18" opacity="0.8" filter="url(#b5)"/></g>
<path d="M444,194C443.1,193.3 441.6,188.6 438.8,190C436.1,191.4 431.5,198.3 427.5,202.5C423.5,206.7 418.6,210.8 415,215C411.4,219.2 408.8,223.3 406.2,227.5C403.6,231.7 401.4,235.8 399.4,240C397.4,244.2 395.8,248.3 394.4,252.5C393,256.7 392,260.8 391.2,265C390.4,269.2 389.7,273.3 389.4,277.5C389.1,281.7 389.4,285.8 389.6,290C389.8,294.2 390,298.3 390.6,302.5C391.2,306.7 392.2,310.8 393.1,315C394,319.2 394.9,323.3 396.2,327.5C397.4,331.7 398.9,335.8 400.6,340C402.3,344.2 404.1,348.3 406.2,352.5C408.3,356.7 410.8,361.5 413.1,365C415.4,368.5 417.6,370.8 420,373.5C422.4,376.2 424.2,377.9 427.5,381C430.8,384.1 435.8,388.5 440,392C444.2,395.5 448.6,399.2 452.5,402C456.4,404.8 461.7,407.8 463.5,409" fill="none" stroke="#ffffff" stroke-width="1" opacity="0.7"/>
<clipPath id="ica"><path d="M469.4,155C467.8,157.1 463.6,162.5 460,167.5C456.4,172.5 451.1,179.1 447.5,185C443.9,190.9 440.6,198 438.5,203C436.4,208 436.2,210.9 435,215C433.8,219.1 432.2,223.3 431.2,227.5C430.2,231.7 429.5,235.8 428.8,240C428.1,244.2 427.3,248.3 426.9,252.5C426.5,256.7 426.4,260.8 426.2,265C426,269.2 425.9,273.3 425.9,277.5C425.9,281.7 426,285.8 426.2,290C426.4,294.2 426.6,298.3 426.9,302.5C427.2,306.7 427.7,310.8 428.1,315C428.5,319.2 428.8,323.3 429.4,327.5C430,331.7 430.6,335.8 431.5,340C432.4,344.2 433.1,347.9 434.5,352.5C435.9,357.1 437.2,362.2 440,367.5C442.8,372.8 447.6,379.1 451,384.5C454.4,389.9 458.2,396.2 460.5,400C462.8,403.8 463,405.4 465,407.5C467,409.6 471.2,411.7 472.5,412.5L472.5,412.5C471.7,410.2 468.9,404.2 467.5,398.8C466.1,393.4 464.9,387.3 463.8,380C462.8,372.7 461.9,361.7 461.2,355C460.5,348.3 459.9,345.7 459.4,340C458.9,334.3 458.4,329.3 458,321C457.6,312.7 457.2,300.6 457,290C456.8,279.4 456.7,263.8 456.5,257.5C456.3,251.2 455.9,255.4 455.6,252.5C455.4,249.6 455,246.2 455,240C455,233.8 454.9,223 455.6,215C456.4,207 457.7,198.7 459.5,192C461.3,185.3 464.6,181.2 466.2,175C467.8,168.8 468.9,158.3 469.4,155Z"/></clipPath>
<path d="M469.4,155C467.8,157.1 463.6,162.5 460,167.5C456.4,172.5 451.1,179.1 447.5,185C443.9,190.9 440.6,198 438.5,203C436.4,208 436.2,210.9 435,215C433.8,219.1 432.2,223.3 431.2,227.5C430.2,231.7 429.5,235.8 428.8,240C428.1,244.2 427.3,248.3 426.9,252.5C426.5,256.7 426.4,260.8 426.2,265C426,269.2 425.9,273.3 425.9,277.5C425.9,281.7 426,285.8 426.2,290C426.4,294.2 426.6,298.3 426.9,302.5C427.2,306.7 427.7,310.8 428.1,315C428.5,319.2 428.8,323.3 429.4,327.5C430,331.7 430.6,335.8 431.5,340C432.4,344.2 433.1,347.9 434.5,352.5C435.9,357.1 437.2,362.2 440,367.5C442.8,372.8 447.6,379.1 451,384.5C454.4,389.9 458.2,396.2 460.5,400C462.8,403.8 463,405.4 465,407.5C467,409.6 471.2,411.7 472.5,412.5L472.5,412.5C471.7,410.2 468.9,404.2 467.5,398.8C466.1,393.4 464.9,387.3 463.8,380C462.8,372.7 461.9,361.7 461.2,355C460.5,348.3 459.9,345.7 459.4,340C458.9,334.3 458.4,329.3 458,321C457.6,312.7 457.2,300.6 457,290C456.8,279.4 456.7,263.8 456.5,257.5C456.3,251.2 455.9,255.4 455.6,252.5C455.4,249.6 455,246.2 455,240C455,233.8 454.9,223 455.6,215C456.4,207 457.7,198.7 459.5,192C461.3,185.3 464.6,181.2 466.2,175C467.8,168.8 468.9,158.3 469.4,155Z" fill="#a9c8d8"/>
<g clip-path="url(#ica)"><path d="M469.4,155C467.8,157.1 463.6,162.5 460,167.5C456.4,172.5 451.1,179.1 447.5,185C443.9,190.9 440.6,198 438.5,203C436.4,208 436.2,210.9 435,215C433.8,219.1 432.2,223.3 431.2,227.5C430.2,231.7 429.5,235.8 428.8,240C428.1,244.2 427.3,248.3 426.9,252.5C426.5,256.7 426.4,260.8 426.2,265C426,269.2 425.9,273.3 425.9,277.5C425.9,281.7 426,285.8 426.2,290C426.4,294.2 426.6,298.3 426.9,302.5C427.2,306.7 427.7,310.8 428.1,315C428.5,319.2 428.8,323.3 429.4,327.5C430,331.7 430.6,335.8 431.5,340C432.4,344.2 433.1,347.9 434.5,352.5C435.9,357.1 437.2,362.2 440,367.5C442.8,372.8 447.6,379.1 451,384.5C454.4,389.9 458.2,396.2 460.5,400C462.8,403.8 463,405.4 465,407.5C467,409.6 471.2,411.7 472.5,412.5" fill="none" stroke="#47769a" stroke-width="26" filter="url(#b5)"/><path d="M472.5,412.5C471.7,410.2 468.9,404.2 467.5,398.8C466.1,393.4 464.9,387.3 463.8,380C462.8,372.7 461.9,361.7 461.2,355C460.5,348.3 459.9,345.7 459.4,340C458.9,334.3 458.4,329.3 458,321C457.6,312.7 457.2,300.6 457,290C456.8,279.4 456.7,263.8 456.5,257.5C456.3,251.2 455.9,255.4 455.6,252.5C455.4,249.6 455,246.2 455,240C455,233.8 454.9,223 455.6,215C456.4,207 457.7,198.7 459.5,192C461.3,185.3 464.6,181.2 466.2,175C467.8,168.8 468.9,158.3 469.4,155" fill="none" stroke="#bcd8e2" stroke-width="2.5" opacity="0.55" filter="url(#b1)" transform="translate(-4,0)"/></g>
<path d="M455,259.6C456.5,257.4 458.1,257.5 460,256.8C461.9,256.1 465.2,253 466.2,255.2C467.2,257.4 466.2,264.2 466,270C465.8,275.8 465,284.2 465,290C465,295.8 465.6,299.6 466,305C466.4,310.4 468.1,319.6 467.5,322.7C466.9,325.8 463.9,324.1 462.5,323.3C461.1,322.5 460.2,320.3 458.8,317.7C457.4,315.1 455.2,311.6 453.8,307.7C452.4,303.8 451.2,298.4 450.6,294C450,289.6 449.9,285.5 450,281.5C450.1,277.5 450.4,273.8 451.2,270.2C452,266.6 453.5,261.8 455,259.6Z" fill="url(#pup)"/>
<path d="M455,259.6C456.5,257.4 458.1,257.5 460,256.8C461.9,256.1 465.2,253 466.2,255.2C467.2,257.4 466.2,264.2 466,270C465.8,275.8 465,284.2 465,290C465,295.8 465.6,299.6 466,305C466.4,310.4 468.1,319.6 467.5,322.7C466.9,325.8 463.9,324.1 462.5,323.3C461.1,322.5 460.2,320.3 458.8,317.7C457.4,315.1 455.2,311.6 453.8,307.7C452.4,303.8 451.2,298.4 450.6,294C450,289.6 449.9,285.5 450,281.5C450.1,277.5 450.4,273.8 451.2,270.2C452,266.6 453.5,261.8 455,259.6Z" fill="url(#pupv)"/>
<path d="M506,205.6C502.2,205.7 497.2,207 493.5,208.8C489.8,210.6 486.6,212.5 483.5,216.2C480.4,219.9 477.3,226 474.8,231.2C472.3,236.4 470.3,242.3 468.5,247.5C466.7,252.7 465.1,256.9 464,262.5C462.9,268.1 462.4,274.9 462.2,281.2C462,287.4 462.3,293.7 462.9,300C463.5,306.3 464.4,312.6 466,318.8C467.6,325.1 469.7,331.3 472.2,337.5C474.7,343.7 477.9,351 481,356.2C484.1,361.4 487.2,365.8 491,368.8C494.8,371.8 500,373.5 503.5,374.4C507,375.3 509.1,375.3 512.2,374.4C515.3,373.5 519.5,371.8 522.2,368.8C524.9,365.8 526.9,361.4 528.5,356.2C530.1,351 530.8,344.8 531.6,337.5C532.4,330.2 533.2,320.8 533.5,312.5C533.8,304.2 533.7,295.8 533.5,287.5C533.3,279.2 532.8,270.8 532.2,262.5C531.6,254.2 531,244.8 529.8,237.5C528.6,230.2 527.1,223.7 524.8,218.8C522.5,213.9 519.1,210.2 516,208C512.9,205.8 509.8,205.5 506,205.6Z" fill="url(#lens)" stroke="#ffffff" stroke-opacity="0.85" stroke-width="1.2"/>
<path d="M501.2,415.9C500.2,413.5 496.8,407.1 495,401.6C493.2,396.1 491.4,388 490.2,383.1C489.1,378.2 488.9,376.6 488.1,372.1C487.2,367.5 486,361.7 485.3,355.9C484.5,350.1 484.1,343.3 483.6,337.3C483.1,331.2 483.4,324.1 482.5,319.5C481.5,314.9 480.3,312 478,309.4C475.8,306.9 472.8,305.3 469.2,304.3C465.5,303.3 459.7,303.4 455.9,303.5C452.1,303.7 449.5,304.4 446.4,305.2C443.2,305.9 438.7,307.5 437.2,308L438.8,313.2C440.3,312.7 444.8,311.1 447.6,310.4C450.5,309.7 452.7,309 456.1,308.9C459.5,308.7 464.9,308.8 467.8,309.5C470.8,310.2 472.4,311.1 474,313C475.5,314.8 476.4,316.4 477.1,320.5C477.9,324.6 477.8,331.7 478.4,337.7C479,343.7 479.6,350.7 480.5,356.5C481.4,362.4 482.9,368.3 483.9,372.9C485,377.5 485.3,379.2 486.8,384.1C488.3,389 490.6,397.1 493,402.4C495.3,407.7 499.5,413.8 500.8,416.1Z" fill="#3a52b2"/>
<path d="M416.9,320L435,300.6L437.5,309.5L440.5,313.8L444.4,321.2Z" fill="#3a52b2"/>
<path d="M416.2,333.1L416.9,342.5L420,361.2L427.5,376.2L437.5,387.5L447,394.8L449.8,396.5L445.6,398.6L463.8,405.3L457.7,383.5L456.3,389.8L455,391.2L450,385L440,373.8L431.2,361.2L422.5,342.5Z" fill="#3a52b2"/>
<g fill="#ffffff" stroke="#4a55b0" stroke-width="0.8"><circle cx="462.5" cy="409.4" r="1.9"/><ellipse cx="467.5" cy="414.2" rx="1.3" ry="2.7" transform="rotate(-15 467.5 414.2)"/><circle cx="471.6" cy="416" r="1.1"/></g></g>
<g id="eye2" transform="translate(-2.5,462.3)"><path d="M823,396.2C820.8,400 814.9,411.3 810,418.8C805.1,426.3 799.2,434.3 793.8,441.2C788.4,448.1 783.3,453.9 777.5,460C771.7,466.1 764.7,472.5 758.8,477.5C752.9,482.5 747.6,486.4 742,490C736.4,493.6 732,495.9 725,498.8C718,501.7 708.3,505 700,507.5C691.7,510 683.3,512.3 675,513.8C666.7,515.2 658.3,515.8 650,516.2C641.7,516.6 633.3,516.6 625,516.2C616.7,515.8 608.3,515.1 600,513.8C591.7,512.5 583.3,511 575,508.5C566.7,506 557.2,502.2 550,499C542.8,495.8 537.4,492.5 532,489.5C526.6,486.5 521.6,483.7 517.5,481C513.4,478.3 511.2,476.6 507.5,473.5C503.8,470.4 499.2,466.6 495,462.5C490.8,458.4 486.2,453.2 482.5,448.8C478.8,444.4 475.8,440.4 472.5,436.2C469.2,432 466.1,427.5 463,423.8C459.9,420.1 457.4,417.1 453.7,413.8C449.9,410.5 445.4,407.4 440.7,403.8C435.9,400.2 430.3,396.7 425.2,392.5C420,388.3 414.3,383.6 409.6,378.8C404.8,374 400.3,369 396.5,363.8C392.8,358.6 390.1,354 387.2,347.5C384.4,341 381.3,331.4 379.4,325C377.5,318.6 376.8,314.2 375.9,308.8C375,303.4 374.4,297.7 374,292.5C373.6,287.3 373.2,282.5 373.5,277.5C373.8,272.5 374.3,267.5 375.6,262.5C376.9,257.5 378.8,252.5 381.2,247.5C383.6,242.5 386.7,237.7 390,232.5C393.3,227.3 397.4,221.2 401.2,216.2C404.9,211.2 408.5,207.3 412.5,202.5C416.5,197.7 420.2,193.3 425,187.5C429.8,181.7 435.6,174.2 441.2,167.5C446.8,160.8 452.3,154.6 458.8,147.5C465.3,140.4 474,130.8 480,125C486,119.2 489.7,116.8 495,113C500.3,109.2 506.5,105.2 512,101.9C517.5,98.6 522.7,95.7 528,93C533.3,90.3 538.7,87.9 544,85.6C549.3,83.3 553.2,81.3 560,79C566.8,76.7 576.7,73.7 585,72C593.3,70.3 601.7,69.5 610,68.8C618.3,68.1 626.7,67.9 635,68C643.3,68.1 651.7,68.7 660,69.5C668.3,70.3 676.7,71.5 685,73C693.3,74.5 701.7,76.4 710,78.8C718.3,81.2 727.2,83.9 735,87.5C742.8,91.1 749.8,95.5 757,100.5C764.2,105.5 772.2,112.2 778.4,117.5C784.6,122.8 789.2,127.3 794.3,132.5C799.4,137.7 804.5,143.4 808.9,148.8C813.3,154.2 816.9,159.3 820.5,164.8C824.1,170.3 827.5,176.1 830.5,182C833.5,187.9 836.2,193.9 838.5,200.1C840.8,206.2 842.7,212.5 844.2,218.9C845.7,225.3 846.6,232.5 847.4,238.3C848.2,244.1 848.6,248.6 849.2,253.7C849.8,258.8 850.5,263.9 851,269C851.5,274.1 851.8,280.4 852.3,284.3C852.8,288.2 853.6,289.9 854.3,292.5C855,295.1 855.6,296.2 856.4,300C857.2,303.8 857.1,311 859,315.5C860.9,320 862.3,321.7 868,327C873.7,332.3 884.7,341.6 893,347.5C901.3,353.4 909.7,357.9 918,362.5C926.3,367.1 934.7,371.2 943,375C951.3,378.8 960.4,382.2 968,385C975.6,387.8 985.2,390.8 988.6,392L961.8,453C958.7,451 950.3,445.7 943,441.2C935.7,436.7 926.3,431 918,426.2C909.7,421.4 901.3,416.4 893,412.5C884.7,408.6 876.8,405.6 868,402.8C859.2,400 847.5,396.9 840,395.8C832.5,394.7 825.8,396.1 823,396.2Z" fill="url(#scl)" stroke="#2a3594" stroke-width="4.3" stroke-linejoin="miter"/>
<clipPath id="rcb"><path d="M810,390C809.8,391.5 810,394.3 808.8,399C807.6,403.7 805.5,412.6 802.8,418C800,423.5 795.8,427.3 792.3,431.6C788.9,435.9 785.5,439.9 782,443.7C778.6,447.5 775.4,450.9 771.7,454.4C768,458 763.8,461.7 759.9,465C756.1,468.2 752.2,471.2 748.7,473.8C745.2,476.4 742,478.5 738.7,480.5C735.5,482.5 732.8,484.1 729.4,485.8C726,487.4 722.9,488.7 718.5,490.3C714.1,491.9 708.3,493.8 703.2,495.3C698,496.9 692.8,498.4 687.8,499.7C682.7,501 678,502.1 673.1,502.9C668.2,503.7 663.5,504.1 658.5,504.5C653.6,504.9 648.5,505.1 643.5,505.2C638.5,505.3 633.5,505.3 628.5,505.1C623.5,504.9 618.5,504.6 613.5,504.1C608.6,503.6 603.6,503 598.7,502.2C593.8,501.3 588.9,500.4 584,499.1C579.1,497.8 574.2,496.2 569.3,494.4C564.5,492.6 559,490.3 554.8,488.3C550.6,486.3 547.5,484.4 544.1,482.4C540.7,480.5 537.2,478.3 534.1,476.5C531.1,474.6 528.2,472.8 525.8,471.3C523.5,469.8 522,468.8 520,467.3C518.1,465.9 516.3,464.4 514.1,462.6C511.9,460.8 509.1,458.5 506.7,456.3C504.2,454 501.8,451.6 499.4,449C496.9,446.4 494.3,443.3 492,440.7C489.8,438 487.8,435.7 485.9,433.2C484,430.7 482.8,429.4 480.5,425.9C478.3,422.5 477.6,421.8 472.5,412.5C467.4,403.2 455.1,391.2 450,370C444.9,348.8 442,313.3 442,285C442,256.7 445.4,221.7 450,200C454.6,178.3 466.4,162.3 469.4,155C472.4,147.7 466,158.2 468,155.9C470,153.6 477.4,145.6 481.4,141.4C485.5,137.1 489.1,133.4 492.2,130.6C495.3,127.8 497.3,126.5 500.2,124.3C503.2,122.2 506.7,119.7 510.1,117.5C513.4,115.2 516.9,113 520.2,111C523.5,109.1 526.5,107.3 529.6,105.6C532.8,103.9 535.8,102.4 539,100.8C542.2,99.3 545.6,97.8 548.7,96.4C551.9,94.9 554.4,93.6 557.8,92.3C561.2,90.9 564.6,89.7 569.1,88.2C573.5,86.8 579.4,85 584.4,83.8C589.3,82.6 593.9,81.8 598.8,81C603.8,80.3 608.9,79.8 613.9,79.4C618.9,79 623.8,78.6 628.8,78.5C633.8,78.4 638.8,78.6 643.8,78.8C648.9,79 653.9,79.5 659,80C664,80.5 669,81.1 674.1,81.9C679.1,82.6 684.1,83.5 689.1,84.6C694.1,85.6 699,86.8 704.1,88.1C709.1,89.5 714.5,90.9 719.4,92.5C724.3,94.2 728.9,95.9 733.4,98C737.8,100.1 741.9,102.4 746.2,105.1C750.5,107.9 755,111.1 759.3,114.4C763.6,117.6 768.3,121.6 772.1,124.9C775.8,128.1 778.8,130.8 781.9,133.8C785.1,136.9 788.1,139.9 791.1,143.1C794.1,146.3 797.2,149.7 799.8,152.9C802.5,156.2 804.8,159.2 807.1,162.5C809.3,165.7 811.3,168.9 813.3,172.3C815.3,175.6 817.3,179.1 819.1,182.6C820.9,186.1 822.5,189.6 824,193.2C825.6,196.7 826.9,200.3 828.2,203.9C829.4,207.6 830.6,211.2 831.5,214.9C832.5,218.5 833.3,222.1 833.9,225.9C834.6,229.7 835,234.1 835.5,237.7C835.9,241.3 836.2,244.3 836.5,247.6C836.9,250.8 837.1,253.9 837.5,257.1C837.8,260.2 838.3,263.4 838.6,266.5C838.9,269.7 839.2,272.7 839.5,275.9C839.7,279.1 839.8,282.6 840.3,286C840.8,289.3 841.6,292.3 842.3,296C843,299.7 843.8,304.1 844.6,308C845.4,311.9 846.8,317.6 847.2,319.5Z"/><path d="M584,93.8C586.2,93.2 592.4,91.3 597,90.3C601.6,89.3 606.7,88.3 611.5,87.7C616.3,87.2 621.2,87.1 626,87C630.8,86.9 635.7,87 640.5,87.2C645.4,87.4 650.2,87.8 655.1,88.3C660,88.8 665,89.3 669.9,90.1C674.7,90.8 679.6,91.6 684.4,92.6C689.3,93.6 694,94.7 698.9,95.9C703.8,97.2 708.9,98.7 713.6,100.2C718.2,101.8 722.7,103.3 726.8,105.2C731,107.1 734.6,109.2 738.5,111.7C742.5,114.1 746.6,116.9 750.8,119.9C755,123 759.8,126.8 763.7,129.9C767.5,133 770.7,135.7 773.9,138.6C777.1,141.5 779.9,144.2 782.9,147.2C785.8,150.2 789,153.5 791.7,156.5C794.4,159.6 796.8,162.5 799.1,165.5C801.3,168.6 803.3,171.5 805.3,174.7C807.3,177.8 809.3,181.1 811.1,184.4C812.9,187.7 814.6,191 816.1,194.4C817.7,197.7 819.1,201.1 820.4,204.5C821.7,207.9 822.9,211.4 823.9,214.8C825,218.2 825.8,221.5 826.6,225.1C827.3,228.6 827.8,232.7 828.4,236.3C828.9,239.9 829.3,243.2 829.7,246.5C830.1,249.8 830.4,252.7 830.7,255.8C831.1,259 831.6,262.4 832,265.5C832.3,268.5 832.6,271.2 832.9,274.4C833.2,277.6 833,281 833.8,284.7C834.6,288.5 836.3,293 837.6,297C838.9,301 839.9,305.2 841.5,309C843.1,312.8 844.8,316.2 847.2,319.5C849.6,322.8 852.5,325.6 856,329C859.5,332.4 861.8,335.3 868,340C874.2,344.7 884.7,351.8 893,357C901.3,362.2 909.7,366.7 918,371.2C926.3,375.7 934.7,380 943,383.8C951.3,387.6 961.4,391.2 968,393.8C974.6,396.4 980.3,398.6 982.8,399.6L962.5,445.8C959.2,443.6 950.4,437.2 943,432.5C935.6,427.8 926.3,422.3 918,417.5C909.7,412.7 901.3,407.6 893,403.8C884.7,400.1 875.6,397.3 868,395C860.4,392.7 854.2,391.2 847.5,390C840.8,388.8 832.9,388.1 827.5,388C822.1,387.9 817.9,389.1 815,389.4C812.1,389.7 811.5,388.4 810,390C808.5,391.6 808.2,394.8 806.3,399C804.4,403.2 801.5,410.3 798.4,415.1C795.3,419.9 791.1,423.9 787.5,428C783.9,432 780.4,435.8 776.8,439.3C773.3,442.9 770.1,446 766.3,449.2C762.5,452.4 758,455.7 754.1,458.6C750.2,461.4 746.2,464.1 742.6,466.3C739.1,468.5 736,470 733,471.8C730,473.5 727.7,475.2 724.7,476.7C721.7,478.3 718.9,479.5 714.9,481.1C710.8,482.7 705.2,484.7 700.2,486.3C695.3,487.8 690,489.3 685.2,490.5C680.4,491.7 676,492.6 671.4,493.3C666.9,494 662.5,494.3 657.8,494.6C653.1,494.9 648.1,495 643.2,495C638.4,495 633.7,495 628.9,494.7C624.1,494.5 619.9,494.2 614.5,493.6C609.2,493 602.3,492.2 597,491C591.7,489.8 584.9,487 582.5,486.2Z"/></clipPath>
<path d="M810,390C809.8,391.5 810,394.3 808.8,399C807.6,403.7 805.5,412.6 802.8,418C800,423.5 795.8,427.3 792.3,431.6C788.9,435.9 785.5,439.9 782,443.7C778.6,447.5 775.4,450.9 771.7,454.4C768,458 763.8,461.7 759.9,465C756.1,468.2 752.2,471.2 748.7,473.8C745.2,476.4 742,478.5 738.7,480.5C735.5,482.5 732.8,484.1 729.4,485.8C726,487.4 722.9,488.7 718.5,490.3C714.1,491.9 708.3,493.8 703.2,495.3C698,496.9 692.8,498.4 687.8,499.7C682.7,501 678,502.1 673.1,502.9C668.2,503.7 663.5,504.1 658.5,504.5C653.6,504.9 648.5,505.1 643.5,505.2C638.5,505.3 633.5,505.3 628.5,505.1C623.5,504.9 618.5,504.6 613.5,504.1C608.6,503.6 603.6,503 598.7,502.2C593.8,501.3 588.9,500.4 584,499.1C579.1,497.8 574.2,496.2 569.3,494.4C564.5,492.6 559,490.3 554.8,488.3C550.6,486.3 547.5,484.4 544.1,482.4C540.7,480.5 537.2,478.3 534.1,476.5C531.1,474.6 528.2,472.8 525.8,471.3C523.5,469.8 522,468.8 520,467.3C518.1,465.9 516.3,464.4 514.1,462.6C511.9,460.8 509.1,458.5 506.7,456.3C504.2,454 501.8,451.6 499.4,449C496.9,446.4 494.3,443.3 492,440.7C489.8,438 487.8,435.7 485.9,433.2C484,430.7 482.8,429.4 480.5,425.9C478.3,422.5 477.6,421.8 472.5,412.5C467.4,403.2 455.1,391.2 450,370C444.9,348.8 442,313.3 442,285C442,256.7 445.4,221.7 450,200C454.6,178.3 466.4,162.3 469.4,155C472.4,147.7 466,158.2 468,155.9C470,153.6 477.4,145.6 481.4,141.4C485.5,137.1 489.1,133.4 492.2,130.6C495.3,127.8 497.3,126.5 500.2,124.3C503.2,122.2 506.7,119.7 510.1,117.5C513.4,115.2 516.9,113 520.2,111C523.5,109.1 526.5,107.3 529.6,105.6C532.8,103.9 535.8,102.4 539,100.8C542.2,99.3 545.6,97.8 548.7,96.4C551.9,94.9 554.4,93.6 557.8,92.3C561.2,90.9 564.6,89.7 569.1,88.2C573.5,86.8 579.4,85 584.4,83.8C589.3,82.6 593.9,81.8 598.8,81C603.8,80.3 608.9,79.8 613.9,79.4C618.9,79 623.8,78.6 628.8,78.5C633.8,78.4 638.8,78.6 643.8,78.8C648.9,79 653.9,79.5 659,80C664,80.5 669,81.1 674.1,81.9C679.1,82.6 684.1,83.5 689.1,84.6C694.1,85.6 699,86.8 704.1,88.1C709.1,89.5 714.5,90.9 719.4,92.5C724.3,94.2 728.9,95.9 733.4,98C737.8,100.1 741.9,102.4 746.2,105.1C750.5,107.9 755,111.1 759.3,114.4C763.6,117.6 768.3,121.6 772.1,124.9C775.8,128.1 778.8,130.8 781.9,133.8C785.1,136.9 788.1,139.9 791.1,143.1C794.1,146.3 797.2,149.7 799.8,152.9C802.5,156.2 804.8,159.2 807.1,162.5C809.3,165.7 811.3,168.9 813.3,172.3C815.3,175.6 817.3,179.1 819.1,182.6C820.9,186.1 822.5,189.6 824,193.2C825.6,196.7 826.9,200.3 828.2,203.9C829.4,207.6 830.6,211.2 831.5,214.9C832.5,218.5 833.3,222.1 833.9,225.9C834.6,229.7 835,234.1 835.5,237.7C835.9,241.3 836.2,244.3 836.5,247.6C836.9,250.8 837.1,253.9 837.5,257.1C837.8,260.2 838.3,263.4 838.6,266.5C838.9,269.7 839.2,272.7 839.5,275.9C839.7,279.1 839.8,282.6 840.3,286C840.8,289.3 841.6,292.3 842.3,296C843,299.7 843.8,304.1 844.6,308C845.4,311.9 846.8,317.6 847.2,319.5Z" fill="#c8656e"/>
<path d="M584,93.8C586.2,93.2 592.4,91.3 597,90.3C601.6,89.3 606.7,88.3 611.5,87.7C616.3,87.2 621.2,87.1 626,87C630.8,86.9 635.7,87 640.5,87.2C645.4,87.4 650.2,87.8 655.1,88.3C660,88.8 665,89.3 669.9,90.1C674.7,90.8 679.6,91.6 684.4,92.6C689.3,93.6 694,94.7 698.9,95.9C703.8,97.2 708.9,98.7 713.6,100.2C718.2,101.8 722.7,103.3 726.8,105.2C731,107.1 734.6,109.2 738.5,111.7C742.5,114.1 746.6,116.9 750.8,119.9C755,123 759.8,126.8 763.7,129.9C767.5,133 770.7,135.7 773.9,138.6C777.1,141.5 779.9,144.2 782.9,147.2C785.8,150.2 789,153.5 791.7,156.5C794.4,159.6 796.8,162.5 799.1,165.5C801.3,168.6 803.3,171.5 805.3,174.7C807.3,177.8 809.3,181.1 811.1,184.4C812.9,187.7 814.6,191 816.1,194.4C817.7,197.7 819.1,201.1 820.4,204.5C821.7,207.9 822.9,211.4 823.9,214.8C825,218.2 825.8,221.5 826.6,225.1C827.3,228.6 827.8,232.7 828.4,236.3C828.9,239.9 829.3,243.2 829.7,246.5C830.1,249.8 830.4,252.7 830.7,255.8C831.1,259 831.6,262.4 832,265.5C832.3,268.5 832.6,271.2 832.9,274.4C833.2,277.6 833,281 833.8,284.7C834.6,288.5 836.3,293 837.6,297C838.9,301 839.9,305.2 841.5,309C843.1,312.8 844.8,316.2 847.2,319.5C849.6,322.8 852.5,325.6 856,329C859.5,332.4 861.8,335.3 868,340C874.2,344.7 884.7,351.8 893,357C901.3,362.2 909.7,366.7 918,371.2C926.3,375.7 934.7,380 943,383.8C951.3,387.6 961.4,391.2 968,393.8C974.6,396.4 980.3,398.6 982.8,399.6L962.5,445.8C959.2,443.6 950.4,437.2 943,432.5C935.6,427.8 926.3,422.3 918,417.5C909.7,412.7 901.3,407.6 893,403.8C884.7,400.1 875.6,397.3 868,395C860.4,392.7 854.2,391.2 847.5,390C840.8,388.8 832.9,388.1 827.5,388C822.1,387.9 817.9,389.1 815,389.4C812.1,389.7 811.5,388.4 810,390C808.5,391.6 808.2,394.8 806.3,399C804.4,403.2 801.5,410.3 798.4,415.1C795.3,419.9 791.1,423.9 787.5,428C783.9,432 780.4,435.8 776.8,439.3C773.3,442.9 770.1,446 766.3,449.2C762.5,452.4 758,455.7 754.1,458.6C750.2,461.4 746.2,464.1 742.6,466.3C739.1,468.5 736,470 733,471.8C730,473.5 727.7,475.2 724.7,476.7C721.7,478.3 718.9,479.5 714.9,481.1C710.8,482.7 705.2,484.7 700.2,486.3C695.3,487.8 690,489.3 685.2,490.5C680.4,491.7 676,492.6 671.4,493.3C666.9,494 662.5,494.3 657.8,494.6C653.1,494.9 648.1,495 643.2,495C638.4,495 633.7,495 628.9,494.7C624.1,494.5 619.9,494.2 614.5,493.6C609.2,493 602.3,492.2 597,491C591.7,489.8 584.9,487 582.5,486.2Z" fill="#f1d08f"/>
<path d="M820,341.9C823.8,343.5 835,347.9 843,351.5C851,355.1 859.7,359.9 868,363.8C876.3,367.7 884.7,370.2 893,375C901.3,379.8 909.7,387.1 918,392.5C926.3,397.9 934.7,403.6 943,407.5C951.3,411.4 962.4,414.3 968,416.2C973.6,418.1 975.1,418.5 976.5,419L974.5,425.3C973.4,425.1 973.2,425.3 968,423.8C962.8,422.3 951.3,419.5 943,416.2C934.7,412.9 926.3,408.8 918,403.8C909.7,398.8 901.3,391.2 893,386.2C884.7,381.2 876.3,377.8 868,373.8C859.7,369.9 851.6,365.4 843,362.5C834.4,359.6 820.7,357.5 816.2,356.5Z" fill="#9a4453"/>
<path d="M833,352.3C834.7,352.8 837.2,353 843,355.5C848.8,358 859.7,363.4 868,367.5C876.3,371.6 884.7,375 893,380C901.3,385 911.8,393.2 918,397.5C924.2,401.8 926.3,403.3 930.5,405.6C934.7,407.9 936.8,409 943,411.2C949.2,413.4 962.5,417.1 968,418.8C973.5,420.5 974.7,420.9 976,421.3" fill="none" stroke="#e3222b" stroke-width="2.6"/>
<path d="M831,356.5C833,357.1 836.8,357.6 843,360C849.2,362.4 859.7,367.4 868,371.2C876.3,374.9 884.7,378.7 893,382.5C901.3,386.3 909.7,389.9 918,393.8C926.3,397.8 934.7,401.6 943,406.2C951.3,410.8 962.8,418.1 968,421.2C973.2,424.3 973,424 974,424.6" fill="none" stroke="#23703d" stroke-width="2"/>
<g clip-path="url(#rcb)">
<path d="M469.4,155C471.7,149.7 471.3,143.8 480,143C488.7,142.2 514.2,143.8 521.5,150C528.8,156.2 523,170.8 524,180C525,189.2 526.4,195.4 527.8,205C529.2,214.6 530.8,223.8 532.2,237.5C533.6,251.2 535.7,270.8 536,287.5C536.3,304.2 535.1,321.6 534,337.5C532.9,353.4 529.8,368.4 529.2,383C528.6,397.6 538.3,417.6 530.5,425C522.7,432.4 492.2,429.6 482.5,427.5C472.8,425.4 475.6,420.4 472.5,412.5C469.4,404.6 466.2,395.2 463.8,380C461.4,364.8 459.2,341.4 458,321C456.8,300.6 456.9,275.2 456.5,257.5C456.1,239.8 455.1,225.9 455.6,215C456.1,204.1 457.7,198.7 459.5,192C461.3,185.3 464.6,181.2 466.2,175C467.8,168.8 467.1,160.3 469.4,155Z" fill="url(#post)"/>
<path d="M472.5,412.5C469.6,409 468.9,404.2 467.5,398.8C466.1,393.4 464.9,387.3 463.8,380C462.8,372.7 461.9,361.7 461.2,355C460.5,348.3 459.9,345.7 459.4,340C458.9,334.3 458.4,329.3 458,321C457.6,312.7 457.2,300.6 457,290C456.8,279.4 456.7,263.8 456.5,257.5C456.3,251.2 455.9,255.4 455.6,252.5C455.4,249.6 455,246.2 455,240C455,233.8 454.9,223 455.6,215C456.4,207 457.7,198.7 459.5,192C461.3,185.3 464.6,181.2 466.2,175C467.8,168.8 467.1,158.3 469.4,155C471.7,151.7 479.3,150.8 480,155C480.7,159.2 475.2,172.1 473.5,180.5C471.8,188.9 470.9,197.2 469.8,205.5C468.8,213.8 467.7,221.9 467.2,230.5C466.7,239.1 466.8,241.9 466.8,257C466.8,272.1 466.6,306.3 467,321C467.4,335.7 468.2,336.8 469,345C469.8,353.2 470.7,362.2 472,370C473.3,377.8 474.8,383.7 477,392C479.2,400.3 485.8,416.6 485,420C484.2,423.4 475.4,416 472.5,412.5Z" fill="url(#band1)"/>
<path d="M491.2,153.8C492.8,154.4 494.7,156.1 495.6,158.8C496.5,161.5 496.8,165.2 496.5,170C496.2,174.8 494.9,181.7 494,187.5C493.1,193.3 492.2,199.2 491,205C489.8,210.8 490,219.2 487,222C484,224.8 475.7,224 473,222C470.3,220 470.9,213.7 471,210C471.1,206.3 472.9,204.8 473.8,200C474.7,195.2 475,187.4 476.2,181.2C477.4,174.9 479.6,166.9 481.2,162.5C482.8,158.1 484.3,156.4 486,155C487.7,153.6 489.6,153.2 491.2,153.8Z" fill="url(#cilT)"/>
<path d="M510,147C511.1,147 512.4,149 513,152C513.6,155 513.2,160.7 513.5,165C513.8,169.3 514.4,173.8 515,178C515.6,182.2 517.3,188 517,190C516.7,192 514.2,192 513,190C511.8,188 510.7,182.2 509.5,178C508.3,173.8 506.5,169.3 506,165C505.5,160.7 505.8,155 506.5,152C507.2,149 508.9,147 510,147Z" fill="url(#cilT)"/>
<path d="M486.5,360C488.2,362.5 489.4,369.7 491,375C492.6,380.3 494.2,386.2 496,392C497.8,397.8 500.4,405.7 501.5,410C502.6,414.3 502.9,416.2 502.5,418C502.1,419.8 500.6,421.3 499,421C497.4,420.7 494.8,418.7 493,416C491.2,413.3 489.5,409.3 488,405C486.5,400.7 485.2,395.5 484,390C482.8,384.5 481.6,377 481,372C480.4,367 479.6,362 480.5,360C481.4,358 484.8,357.5 486.5,360Z" fill="url(#cilB)"/>
<path d="M509,388C509.4,386 511.2,386 512.5,388C513.8,390 515.3,396 516.5,400C517.7,404 519.1,408.5 519.5,412C519.9,415.5 519.7,419.3 519,421C518.3,422.7 516.7,423.5 515.5,422C514.3,420.5 512.9,415.7 512,412C511.1,408.3 510.5,404 510,400C509.5,396 508.6,390 509,388Z" fill="url(#cilB)"/>
<path d="M496.5,170C496.2,173.3 495.6,183.8 495,190C494.4,196.2 493.3,204.2 493,207" fill="none" stroke="#8cb6e6" stroke-width="1"/>
<path d="M501.2,171C501.4,174.2 502.1,184.2 502.5,190C502.9,195.8 503.3,202.9 503.5,205.5" fill="none" stroke="#8cb6e6" stroke-width="1"/>
<path d="M503.8,170C504.2,173.3 505.4,184.1 506,190C506.6,195.9 507.2,202.7 507.5,205.2" fill="none" stroke="#8cb6e6" stroke-width="1"/>
<path d="M512.5,162.5C512.3,166.2 511.9,177.9 511.5,185C511.1,192.1 510.2,201.9 510,205.3" fill="none" stroke="#8cb6e6" stroke-width="1"/>
<path d="M516.2,165C515.9,168.8 515.1,181.2 514.5,188C513.9,194.8 512.8,202.8 512.5,205.8" fill="none" stroke="#8cb6e6" stroke-width="1"/>
<path d="M497.5,375.5C497.9,378.2 498.9,387.1 500,392C501.1,396.9 503.2,402.8 503.8,405" fill="none" stroke="#8cb6e6" stroke-width="1"/>
<path d="M503,376C503.3,378.7 504.4,387.3 505,392C505.6,396.7 506.2,402 506.5,404" fill="none" stroke="#8cb6e6" stroke-width="1"/>
<path d="M509,376.3C509.2,378.9 509.5,387.2 510.5,392C511.5,396.8 514.2,402.8 515,405" fill="none" stroke="#8cb6e6" stroke-width="1"/>
<path d="M514,375.8C514.5,378.2 515.8,385.6 517,390C518.2,394.4 520.3,400 521,402" fill="none" stroke="#8cb6e6" stroke-width="1"/>
<path d="M505.5,376.2C506,379.3 507.4,389.7 508.5,395C509.6,400.3 511.4,405.8 512,408" fill="none" stroke="#8cb6e6" stroke-width="1"/>
</g>
<linearGradient id="sgb" gradientUnits="userSpaceOnUse" x1="545" y1="0" x2="625" y2="0"><stop offset="0" stop-color="#93405a" stop-opacity="0"/><stop offset="1" stop-color="#93405a" stop-opacity="1"/></linearGradient>
<clipPath id="vcb"><path d="M584,94.5C591.3,93.3 600.5,92.2 609,91.9C617.5,91.6 626.5,92.2 635,92.5C643.5,92.8 651.7,93 660,94C668.3,95 676.7,96.2 685,98.5C693.3,100.8 701.7,104.1 710,107.5C718.3,110.9 726.7,114.4 735,119C743.3,123.6 752.2,129.5 760,135C767.8,140.5 775.9,146.2 781.9,152C787.9,157.8 791.3,162 796,170C800.7,178 806.4,190.6 810,200C813.6,209.4 815.5,218.4 817.5,226.7C819.5,235 820.6,240.5 821.9,250C823.2,259.5 824.8,275.3 825.2,283.6C825.6,291.9 824.6,294.1 824.2,300C823.8,305.9 823.7,311.8 823,318.8C822.3,325.8 821.1,335.7 820,341.9C818.9,348.1 817.9,350.7 816.2,356.2C814.5,361.7 812.7,368.5 810,375C807.3,381.5 803.8,388.3 800,395C796.2,401.7 792.5,407.9 787.5,415C782.5,422.1 776,431 770,437.5C764,444 759,449 751.5,454C744,459 733.6,463.4 725,467.5C716.4,471.6 708.3,475.7 700,478.8C691.7,481.9 683.3,484.3 675,486.2C666.7,488.1 658.3,489.3 650,490C641.7,490.7 633.3,490.7 625,490.5C616.7,490.3 607.1,489.5 600,488.8C592.9,488.1 588.3,488.1 582.5,486.2C576.7,484.3 570.4,481 565,477.5C559.6,474 554.6,470 550,465C545.4,460 540.8,454.2 537.5,447.5C534.2,440.8 532,432.9 530.5,425C529,417.1 529,407 528.8,400C528.6,393 528.8,389.2 529.2,383C529.6,376.8 530.2,370.1 531,362.5C531.8,354.9 533.2,345.8 534,337.5C534.8,329.2 535.7,320.8 536,312.5C536.3,304.2 536.2,295.8 536,287.5C535.8,279.2 535.1,270.8 534.5,262.5C533.9,254.2 533.3,247.1 532.2,237.5C531.1,227.9 529.2,214.6 527.8,205C526.4,195.4 525,188.3 524,180C523,171.7 521.7,162.3 521.5,155C521.3,147.7 521.8,141.4 522.8,136.2C523.8,131 525.5,127.5 527.8,123.8C530.1,120.1 533,116.9 536.5,113.8C540,110.7 544.2,107.5 549,105C553.8,102.5 559.4,100.5 565.2,98.8C571,97 576.7,95.7 584,94.5Z"/></clipPath>
<path d="M584,94.5C591.3,93.3 600.5,92.2 609,91.9C617.5,91.6 626.5,92.2 635,92.5C643.5,92.8 651.7,93 660,94C668.3,95 676.7,96.2 685,98.5C693.3,100.8 701.7,104.1 710,107.5C718.3,110.9 726.7,114.4 735,119C743.3,123.6 752.2,129.5 760,135C767.8,140.5 775.9,146.2 781.9,152C787.9,157.8 791.3,162 796,170C800.7,178 806.4,190.6 810,200C813.6,209.4 815.5,218.4 817.5,226.7C819.5,235 820.6,240.5 821.9,250C823.2,259.5 824.8,275.3 825.2,283.6C825.6,291.9 824.6,294.1 824.2,300C823.8,305.9 823.7,311.8 823,318.8C822.3,325.8 821.1,335.7 820,341.9C818.9,348.1 817.9,350.7 816.2,356.2C814.5,361.7 812.7,368.5 810,375C807.3,381.5 803.8,388.3 800,395C796.2,401.7 792.5,407.9 787.5,415C782.5,422.1 776,431 770,437.5C764,444 759,449 751.5,454C744,459 733.6,463.4 725,467.5C716.4,471.6 708.3,475.7 700,478.8C691.7,481.9 683.3,484.3 675,486.2C666.7,488.1 658.3,489.3 650,490C641.7,490.7 633.3,490.7 625,490.5C616.7,490.3 607.1,489.5 600,488.8C592.9,488.1 588.3,488.1 582.5,486.2C576.7,484.3 570.4,481 565,477.5C559.6,474 554.6,470 550,465C545.4,460 540.8,454.2 537.5,447.5C534.2,440.8 532,432.9 530.5,425C529,417.1 529,407 528.8,400C528.6,393 528.8,389.2 529.2,383C529.6,376.8 530.2,370.1 531,362.5C531.8,354.9 533.2,345.8 534,337.5C534.8,329.2 535.7,320.8 536,312.5C536.3,304.2 536.2,295.8 536,287.5C535.8,279.2 535.1,270.8 534.5,262.5C533.9,254.2 533.3,247.1 532.2,237.5C531.1,227.9 529.2,214.6 527.8,205C526.4,195.4 525,188.3 524,180C523,171.7 521.7,162.3 521.5,155C521.3,147.7 521.8,141.4 522.8,136.2C523.8,131 525.5,127.5 527.8,123.8C530.1,120.1 533,116.9 536.5,113.8C540,110.7 544.2,107.5 549,105C553.8,102.5 559.4,100.5 565.2,98.8C571,97 576.7,95.7 584,94.5Z" fill="url(#vit)"/>
<g clip-path="url(#vcb)"><path d="M675,486.2C670.8,486.8 658.3,489.3 650,490C641.7,490.7 633.3,490.7 625,490.5C616.7,490.3 607.1,489.5 600,488.8C592.9,488.1 588.3,488.1 582.5,486.2C576.7,484.3 570.4,481 565,477.5C559.6,474 554.6,470 550,465C545.4,460 540.8,454.2 537.5,447.5C534.2,440.8 532,432.9 530.5,425C529,417.1 529,407 528.8,400C528.6,393 528.8,389.2 529.2,383C529.6,376.8 530.2,370.1 531,362.5C531.8,354.9 533.2,345.8 534,337.5C534.8,329.2 535.7,320.8 536,312.5C536.3,304.2 536.2,295.8 536,287.5C535.8,279.2 535.1,270.8 534.5,262.5C533.9,254.2 533.3,247.1 532.2,237.5C531.1,227.9 529.2,214.6 527.8,205C526.4,195.4 525,188.3 524,180C523,171.7 521.7,162.3 521.5,155C521.3,147.7 521.8,141.4 522.8,136.2C523.8,131 525.5,127.5 527.8,123.8C530.1,120.1 533,116.9 536.5,113.8C540,110.7 544.2,107.5 549,105C553.8,102.5 559.4,100.5 565.2,98.8C571,97 576.7,95.7 584,94.5C591.3,93.3 600.5,92.2 609,91.9C617.5,91.6 626.5,92.2 635,92.5C643.5,92.8 655.8,93.8 660,94" fill="none" stroke="url(#hg)" stroke-width="34" opacity="0.85" filter="url(#b7)"/></g>
<g clip-path="url(#vcb)"><path d="M527.8,123.8C529.2,122.1 533,116.9 536.5,113.8C540,110.7 544.2,107.5 549,105C553.8,102.5 559.4,100.5 565.2,98.8C571,97 576.7,95.7 584,94.5C591.3,93.3 600.5,92.2 609,91.9C617.5,91.6 626.5,92.2 635,92.5C643.5,92.8 651.7,93 660,94C668.3,95 676.7,96.2 685,98.5C693.3,100.8 701.7,104.1 710,107.5C718.3,110.9 726.7,114.4 735,119C743.3,123.6 752.2,129.5 760,135C767.8,140.5 775.9,146.2 781.9,152C787.9,157.8 791.3,162 796,170C800.7,178 806.4,190.6 810,200C813.6,209.4 815.5,218.4 817.5,226.7C819.5,235 820.6,240.5 821.9,250C823.2,259.5 824.8,275.3 825.2,283.6C825.6,291.9 824.6,294.1 824.2,300C823.8,305.9 823.7,311.8 823,318.8C822.3,325.8 821.1,335.7 820,341.9C818.9,348.1 817.9,350.7 816.2,356.2C814.5,361.7 812.7,368.5 810,375C807.3,381.5 803.8,388.3 800,395C796.2,401.7 792.5,407.9 787.5,415C782.5,422.1 776,431 770,437.5C764,444 759,449 751.5,454C744,459 733.6,463.4 725,467.5C716.4,471.6 708.3,475.7 700,478.8C691.7,481.9 683.3,484.3 675,486.2C666.7,488.1 658.3,489.3 650,490C641.7,490.7 633.3,490.7 625,490.5C616.7,490.3 607.1,489.5 600,488.8C592.9,488.1 588.3,488.1 582.5,486.2C576.7,484.3 570.4,481 565,477.5C559.6,474 554.6,470 550,465C545.4,460 540.8,454.2 537.5,447.5C534.2,440.8 531.7,428.8 530.5,425" fill="none" stroke="url(#sgb)" stroke-width="21" opacity="0.8" filter="url(#b7)"/><path d="M584,94.5C591.3,93.3 600.5,92.2 609,91.9C617.5,91.6 626.5,92.2 635,92.5C643.5,92.8 651.7,93 660,94C668.3,95 676.7,96.2 685,98.5C693.3,100.8 701.7,104.1 710,107.5C718.3,110.9 726.7,114.4 735,119C743.3,123.6 752.2,129.5 760,135C767.8,140.5 775.9,146.2 781.9,152C787.9,157.8 791.3,162 796,170C800.7,178 806.4,190.6 810,200C813.6,209.4 815.5,218.4 817.5,226.7C819.5,235 820.6,240.5 821.9,250C823.2,259.5 824.8,275.3 825.2,283.6C825.6,291.9 824.6,294.1 824.2,300C823.8,305.9 823.7,311.8 823,318.8C822.3,325.8 821.1,335.7 820,341.9C818.9,348.1 817.9,350.7 816.2,356.2C814.5,361.7 812.7,368.5 810,375C807.3,381.5 803.8,388.3 800,395C796.2,401.7 792.5,407.9 787.5,415C782.5,422.1 776,431 770,437.5C764,444 759,449 751.5,454C744,459 733.6,463.4 725,467.5C716.4,471.6 708.3,475.7 700,478.8C691.7,481.9 683.3,484.3 675,486.2C666.7,488.1 658.3,489.3 650,490C641.7,490.7 633.3,490.7 625,490.5C616.7,490.3 607.1,489.5 600,488.8C592.9,488.1 588.3,488.1 582.5,486.2C576.7,484.3 570.4,481 565,477.5C559.6,474 554.6,470 550,465C545.4,460 540.8,454.2 537.5,447.5C534.2,440.8 532,432.9 530.5,425C529,417.1 529,407 528.8,400C528.6,393 528.8,389.2 529.2,383C529.6,376.8 530.2,370.1 531,362.5C531.8,354.9 533.2,345.8 534,337.5C534.8,329.2 535.7,320.8 536,312.5C536.3,304.2 536.2,295.8 536,287.5C535.8,279.2 535.1,270.8 534.5,262.5C533.9,254.2 533.3,247.1 532.2,237.5C531.1,227.9 529.2,214.6 527.8,205C526.4,195.4 525,188.3 524,180C523,171.7 521.7,162.3 521.5,155C521.3,147.7 521.8,141.4 522.8,136.2C523.8,131 525.5,127.5 527.8,123.8C530.1,120.1 533,116.9 536.5,113.8C540,110.7 544.2,107.5 549,105C553.8,102.5 559.4,100.5 565.2,98.8C571,97 576.7,95.7 584,94.5Z" fill="none" stroke="#b86078" stroke-width="3" opacity="0.5" filter="url(#b1)"/></g>
<clipPath id="ccb"><path d="M444,194C443.1,193.3 441.6,188.6 438.8,190C436.1,191.4 431.5,198.3 427.5,202.5C423.5,206.7 418.6,210.8 415,215C411.4,219.2 408.8,223.3 406.2,227.5C403.6,231.7 401.4,235.8 399.4,240C397.4,244.2 395.8,248.3 394.4,252.5C393,256.7 392,260.8 391.2,265C390.4,269.2 389.7,273.3 389.4,277.5C389.1,281.7 389.5,285.8 389.6,290C389.7,294.2 389.6,298.3 390,302.5C390.4,306.7 391.1,310.8 391.8,315C392.5,319.2 393.3,323.3 394.3,327.5C395.4,331.7 396.7,335.8 398.1,340C399.6,344.2 401.3,348.3 403.2,352.5C405.1,356.7 407.3,361.5 409.6,365C411.9,368.5 414.3,370.8 416.8,373.5C419.4,376.2 421.2,377.9 424.7,381C428.1,384.1 433.3,388.5 437.6,392C442,395.5 446.5,399.2 450.6,402C454.6,404.8 460,407.8 461.9,409L465,407.5C464.2,406.2 462.8,403.8 460.5,400C458.2,396.2 454.4,389.9 451,384.5C447.6,379.1 442.8,372.8 440,367.5C437.2,362.2 435.9,357.1 434.5,352.5C433.1,347.9 432.4,344.2 431.5,340C430.6,335.8 430,331.7 429.4,327.5C428.8,323.3 428.5,319.2 428.1,315C427.7,310.8 427.2,306.7 426.9,302.5C426.6,298.3 426.4,294.2 426.2,290C426,285.8 425.9,281.7 425.9,277.5C425.9,273.3 426,269.2 426.2,265C426.4,260.8 426.5,256.7 426.9,252.5C427.3,248.3 428.1,244.2 428.8,240C429.5,235.8 430.2,231.7 431.2,227.5C432.2,223.3 433.8,219.1 435,215C436.2,210.9 436.4,208 438.5,203C440.6,198 446,188 447.5,185Z"/></clipPath>
<path d="M444,194C443.1,193.3 441.6,188.6 438.8,190C436.1,191.4 431.5,198.3 427.5,202.5C423.5,206.7 418.6,210.8 415,215C411.4,219.2 408.8,223.3 406.2,227.5C403.6,231.7 401.4,235.8 399.4,240C397.4,244.2 395.8,248.3 394.4,252.5C393,256.7 392,260.8 391.2,265C390.4,269.2 389.7,273.3 389.4,277.5C389.1,281.7 389.5,285.8 389.6,290C389.7,294.2 389.6,298.3 390,302.5C390.4,306.7 391.1,310.8 391.8,315C392.5,319.2 393.3,323.3 394.3,327.5C395.4,331.7 396.7,335.8 398.1,340C399.6,344.2 401.3,348.3 403.2,352.5C405.1,356.7 407.3,361.5 409.6,365C411.9,368.5 414.3,370.8 416.8,373.5C419.4,376.2 421.2,377.9 424.7,381C428.1,384.1 433.3,388.5 437.6,392C442,395.5 446.5,399.2 450.6,402C454.6,404.8 460,407.8 461.9,409L465,407.5C464.2,406.2 462.8,403.8 460.5,400C458.2,396.2 454.4,389.9 451,384.5C447.6,379.1 442.8,372.8 440,367.5C437.2,362.2 435.9,357.1 434.5,352.5C433.1,347.9 432.4,344.2 431.5,340C430.6,335.8 430,331.7 429.4,327.5C428.8,323.3 428.5,319.2 428.1,315C427.7,310.8 427.2,306.7 426.9,302.5C426.6,298.3 426.4,294.2 426.2,290C426,285.8 425.9,281.7 425.9,277.5C425.9,273.3 426,269.2 426.2,265C426.4,260.8 426.5,256.7 426.9,252.5C427.3,248.3 428.1,244.2 428.8,240C429.5,235.8 430.2,231.7 431.2,227.5C432.2,223.3 433.8,219.1 435,215C436.2,210.9 436.4,208 438.5,203C440.6,198 446,188 447.5,185Z" fill="#f2f2f2"/>
<g clip-path="url(#ccb)"><path d="M444,194C443.1,193.3 441.6,188.6 438.8,190C436.1,191.4 431.5,198.3 427.5,202.5C423.5,206.7 418.6,210.8 415,215C411.4,219.2 408.8,223.3 406.2,227.5C403.6,231.7 401.4,235.8 399.4,240C397.4,244.2 395.8,248.3 394.4,252.5C393,256.7 392,260.8 391.2,265C390.4,269.2 389.7,273.3 389.4,277.5C389.1,281.7 389.5,285.8 389.6,290C389.7,294.2 389.6,298.3 390,302.5C390.4,306.7 391.1,310.8 391.8,315C392.5,319.2 393.3,323.3 394.3,327.5C395.4,331.7 396.7,335.8 398.1,340C399.6,344.2 401.3,348.3 403.2,352.5C405.1,356.7 407.3,361.5 409.6,365C411.9,368.5 414.3,370.8 416.8,373.5C419.4,376.2 421.2,377.9 424.7,381C428.1,384.1 433.3,388.5 437.6,392C442,395.5 446.5,399.2 450.6,402C454.6,404.8 460,407.8 461.9,409" fill="none" stroke="#c4c7cc" stroke-width="18" opacity="0.8" filter="url(#b5)"/></g>
<path d="M444,194C443.1,193.3 441.6,188.6 438.8,190C436.1,191.4 431.5,198.3 427.5,202.5C423.5,206.7 418.6,210.8 415,215C411.4,219.2 408.8,223.3 406.2,227.5C403.6,231.7 401.4,235.8 399.4,240C397.4,244.2 395.8,248.3 394.4,252.5C393,256.7 392,260.8 391.2,265C390.4,269.2 389.7,273.3 389.4,277.5C389.1,281.7 389.5,285.8 389.6,290C389.7,294.2 389.6,298.3 390,302.5C390.4,306.7 391.1,310.8 391.8,315C392.5,319.2 393.3,323.3 394.3,327.5C395.4,331.7 396.7,335.8 398.1,340C399.6,344.2 401.3,348.3 403.2,352.5C405.1,356.7 407.3,361.5 409.6,365C411.9,368.5 414.3,370.8 416.8,373.5C419.4,376.2 421.2,377.9 424.7,381C428.1,384.1 433.3,388.5 437.6,392C442,395.5 446.5,399.2 450.6,402C454.6,404.8 460,407.8 461.9,409L465,407.5C464.2,406.2 462.8,403.8 460.5,400C458.2,396.2 454.4,389.9 451,384.5C447.6,379.1 442.8,372.8 440,367.5C437.2,362.2 435.9,357.1 434.5,352.5C433.1,347.9 432.4,344.2 431.5,340C430.6,335.8 430,331.7 429.4,327.5C428.8,323.3 428.5,319.2 428.1,315C427.7,310.8 427.2,306.7 426.9,302.5C426.6,298.3 426.4,294.2 426.2,290C426,285.8 425.9,281.7 425.9,277.5C425.9,273.3 426,269.2 426.2,265C426.4,260.8 426.5,256.7 426.9,252.5C427.3,248.3 428.1,244.2 428.8,240C429.5,235.8 430.2,231.7 431.2,227.5C432.2,223.3 433.8,219.1 435,215C436.2,210.9 436.4,208 438.5,203C440.6,198 446,188 447.5,185Z" fill="url(#fluid)"/>
<path d="M444,194C443.1,193.3 441.6,188.6 438.8,190C436.1,191.4 431.5,198.3 427.5,202.5C423.5,206.7 418.6,210.8 415,215C411.4,219.2 408.8,223.3 406.2,227.5C403.6,231.7 401.4,235.8 399.4,240C397.4,244.2 395.8,248.3 394.4,252.5C393,256.7 392,260.8 391.2,265C390.4,269.2 389.7,273.3 389.4,277.5C389.1,281.7 389.5,285.8 389.6,290C389.7,294.2 389.6,298.3 390,302.5C390.4,306.7 391.1,310.8 391.8,315C392.5,319.2 393.3,323.3 394.3,327.5C395.4,331.7 396.7,335.8 398.1,340C399.6,344.2 401.3,348.3 403.2,352.5C405.1,356.7 407.3,361.5 409.6,365C411.9,368.5 414.3,370.8 416.8,373.5C419.4,376.2 421.2,377.9 424.7,381C428.1,384.1 433.3,388.5 437.6,392C442,395.5 446.5,399.2 450.6,402C454.6,404.8 460,407.8 461.9,409" fill="none" stroke="#ffffff" stroke-width="1" opacity="0.7"/>
<clipPath id="icb"><path d="M469.4,155C467.8,157.1 463.6,162.5 460,167.5C456.4,172.5 451.1,179.1 447.5,185C443.9,190.9 440.6,198 438.5,203C436.4,208 436.2,210.9 435,215C433.8,219.1 432.2,223.3 431.2,227.5C430.2,231.7 429.5,235.8 428.8,240C428.1,244.2 427.3,248.3 426.9,252.5C426.5,256.7 426.4,260.8 426.2,265C426,269.2 425.9,273.3 425.9,277.5C425.9,281.7 426,285.8 426.2,290C426.4,294.2 426.6,298.3 426.9,302.5C427.2,306.7 427.7,310.8 428.1,315C428.5,319.2 428.8,323.3 429.4,327.5C430,331.7 430.6,335.8 431.5,340C432.4,344.2 433.1,347.9 434.5,352.5C435.9,357.1 437.2,362.2 440,367.5C442.8,372.8 447.6,379.1 451,384.5C454.4,389.9 458.2,396.2 460.5,400C462.8,403.8 463,405.4 465,407.5C467,409.6 471.2,411.7 472.5,412.5L472.5,412.5C471.7,410.2 468.9,404.2 467.5,398.8C466.1,393.4 464.9,387.3 463.8,380C462.8,372.7 461.9,361.7 461.2,355C460.5,348.3 459.9,345.7 459.4,340C458.9,334.3 458.4,329.3 458,321C457.6,312.7 457.2,300.6 457,290C456.8,279.4 456.7,263.8 456.5,257.5C456.3,251.2 455.9,255.4 455.6,252.5C455.4,249.6 455,246.2 455,240C455,233.8 454.9,223 455.6,215C456.4,207 457.7,198.7 459.5,192C461.3,185.3 464.6,181.2 466.2,175C467.8,168.8 468.9,158.3 469.4,155Z"/></clipPath>
<path d="M469.4,155C467.8,157.1 463.6,162.5 460,167.5C456.4,172.5 451.1,179.1 447.5,185C443.9,190.9 440.6,198 438.5,203C436.4,208 436.2,210.9 435,215C433.8,219.1 432.2,223.3 431.2,227.5C430.2,231.7 429.5,235.8 428.8,240C428.1,244.2 427.3,248.3 426.9,252.5C426.5,256.7 426.4,260.8 426.2,265C426,269.2 425.9,273.3 425.9,277.5C425.9,281.7 426,285.8 426.2,290C426.4,294.2 426.6,298.3 426.9,302.5C427.2,306.7 427.7,310.8 428.1,315C428.5,319.2 428.8,323.3 429.4,327.5C430,331.7 430.6,335.8 431.5,340C432.4,344.2 433.1,347.9 434.5,352.5C435.9,357.1 437.2,362.2 440,367.5C442.8,372.8 447.6,379.1 451,384.5C454.4,389.9 458.2,396.2 460.5,400C462.8,403.8 463,405.4 465,407.5C467,409.6 471.2,411.7 472.5,412.5L472.5,412.5C471.7,410.2 468.9,404.2 467.5,398.8C466.1,393.4 464.9,387.3 463.8,380C462.8,372.7 461.9,361.7 461.2,355C460.5,348.3 459.9,345.7 459.4,340C458.9,334.3 458.4,329.3 458,321C457.6,312.7 457.2,300.6 457,290C456.8,279.4 456.7,263.8 456.5,257.5C456.3,251.2 455.9,255.4 455.6,252.5C455.4,249.6 455,246.2 455,240C455,233.8 454.9,223 455.6,215C456.4,207 457.7,198.7 459.5,192C461.3,185.3 464.6,181.2 466.2,175C467.8,168.8 468.9,158.3 469.4,155Z" fill="#a9c8d8"/>
<g clip-path="url(#icb)"><path d="M469.4,155C467.8,157.1 463.6,162.5 460,167.5C456.4,172.5 451.1,179.1 447.5,185C443.9,190.9 440.6,198 438.5,203C436.4,208 436.2,210.9 435,215C433.8,219.1 432.2,223.3 431.2,227.5C430.2,231.7 429.5,235.8 428.8,240C428.1,244.2 427.3,248.3 426.9,252.5C426.5,256.7 426.4,260.8 426.2,265C426,269.2 425.9,273.3 425.9,277.5C425.9,281.7 426,285.8 426.2,290C426.4,294.2 426.6,298.3 426.9,302.5C427.2,306.7 427.7,310.8 428.1,315C428.5,319.2 428.8,323.3 429.4,327.5C430,331.7 430.6,335.8 431.5,340C432.4,344.2 433.1,347.9 434.5,352.5C435.9,357.1 437.2,362.2 440,367.5C442.8,372.8 447.6,379.1 451,384.5C454.4,389.9 458.2,396.2 460.5,400C462.8,403.8 463,405.4 465,407.5C467,409.6 471.2,411.7 472.5,412.5" fill="none" stroke="#47769a" stroke-width="26" filter="url(#b5)"/><path d="M472.5,412.5C471.7,410.2 468.9,404.2 467.5,398.8C466.1,393.4 464.9,387.3 463.8,380C462.8,372.7 461.9,361.7 461.2,355C460.5,348.3 459.9,345.7 459.4,340C458.9,334.3 458.4,329.3 458,321C457.6,312.7 457.2,300.6 457,290C456.8,279.4 456.7,263.8 456.5,257.5C456.3,251.2 455.9,255.4 455.6,252.5C455.4,249.6 455,246.2 455,240C455,233.8 454.9,223 455.6,215C456.4,207 457.7,198.7 459.5,192C461.3,185.3 464.6,181.2 466.2,175C467.8,168.8 468.9,158.3 469.4,155" fill="none" stroke="#bcd8e2" stroke-width="2.5" opacity="0.55" filter="url(#b1)" transform="translate(-4,0)"/></g>
<path d="M455,259.6C456.5,257.4 458.1,257.5 460,256.8C461.9,256.1 465.2,253 466.2,255.2C467.2,257.4 466.2,264.2 466,270C465.8,275.8 465,284.2 465,290C465,295.8 465.6,299.6 466,305C466.4,310.4 468.1,319.6 467.5,322.7C466.9,325.8 463.9,324.1 462.5,323.3C461.1,322.5 460.2,320.3 458.8,317.7C457.4,315.1 455.2,311.6 453.8,307.7C452.4,303.8 451.2,298.4 450.6,294C450,289.6 449.9,285.5 450,281.5C450.1,277.5 450.4,273.8 451.2,270.2C452,266.6 453.5,261.8 455,259.6Z" fill="url(#pup)"/>
<path d="M455,259.6C456.5,257.4 458.1,257.5 460,256.8C461.9,256.1 465.2,253 466.2,255.2C467.2,257.4 466.2,264.2 466,270C465.8,275.8 465,284.2 465,290C465,295.8 465.6,299.6 466,305C466.4,310.4 468.1,319.6 467.5,322.7C466.9,325.8 463.9,324.1 462.5,323.3C461.1,322.5 460.2,320.3 458.8,317.7C457.4,315.1 455.2,311.6 453.8,307.7C452.4,303.8 451.2,298.4 450.6,294C450,289.6 449.9,285.5 450,281.5C450.1,277.5 450.4,273.8 451.2,270.2C452,266.6 453.5,261.8 455,259.6Z" fill="url(#pupv)"/>
<path d="M506,205.6C502.2,205.7 497.2,207 493.5,208.8C489.8,210.6 486.6,212.5 483.5,216.2C480.4,219.9 477.3,226 474.8,231.2C472.3,236.4 470.3,242.3 468.5,247.5C466.7,252.7 465.1,256.9 464,262.5C462.9,268.1 462.4,274.9 462.2,281.2C462,287.4 462.3,293.7 462.9,300C463.5,306.3 464.4,312.6 466,318.8C467.6,325.1 469.7,331.3 472.2,337.5C474.7,343.7 477.9,351 481,356.2C484.1,361.4 487.2,365.8 491,368.8C494.8,371.8 500,373.5 503.5,374.4C507,375.3 509.1,375.3 512.2,374.4C515.3,373.5 519.5,371.8 522.2,368.8C524.9,365.8 526.9,361.4 528.5,356.2C530.1,351 530.8,344.8 531.6,337.5C532.4,330.2 533.2,320.8 533.5,312.5C533.8,304.2 533.7,295.8 533.5,287.5C533.3,279.2 532.8,270.8 532.2,262.5C531.6,254.2 531,244.8 529.8,237.5C528.6,230.2 527.1,223.7 524.8,218.8C522.5,213.9 519.1,210.2 516,208C512.9,205.8 509.8,205.5 506,205.6Z" fill="url(#lens)" stroke="#ffffff" stroke-opacity="0.85" stroke-width="1.2"/>
<path d="M501.2,415.9C500.2,413.5 496.8,407.1 495,401.6C493.2,396.1 491.4,388 490.2,383.1C489.1,378.2 488.9,376.6 488.1,372.1C487.2,367.5 486,361.7 485.3,355.9C484.5,350.1 484.1,343.3 483.6,337.3C483.1,331.2 483.4,324.1 482.5,319.5C481.5,314.9 480.3,312 478,309.4C475.8,306.9 472.8,305.3 469.2,304.3C465.5,303.3 459.7,303.4 455.9,303.5C452.1,303.7 449.5,304.4 446.4,305.2C443.2,305.9 438.7,307.5 437.2,308L438.8,313.2C440.3,312.7 444.8,311.1 447.6,310.4C450.5,309.7 452.7,309 456.1,308.9C459.5,308.7 464.9,308.8 467.8,309.5C470.8,310.2 472.4,311.1 474,313C475.5,314.8 476.4,316.4 477.1,320.5C477.9,324.6 477.8,331.7 478.4,337.7C479,343.7 479.6,350.7 480.5,356.5C481.4,362.4 482.9,368.3 483.9,372.9C485,377.5 485.3,379.2 486.8,384.1C488.3,389 490.6,397.1 493,402.4C495.3,407.7 499.5,413.8 500.8,416.1Z" fill="#3a52b2"/>
<path d="M416.9,320L435,300.6L437.5,309.5L440.5,313.8L444.4,321.2Z" fill="#3a52b2"/>
<path d="M416.2,333.1L416.9,342.5L420,361.2L427.5,376.2L437.5,387.5L447,394.8L449.8,396.5L445.6,398.6L463.8,405.3L457.7,383.5L456.3,389.8L451.8,392.6L445,386L435,374.8L426.7,361.2L420.3,342.5Z" fill="#3a52b2"/>
<g stroke="#e8262d" stroke-width="3.6" fill="none"><path d="M417.5,379 L450.6,365.2"/><path d="M435,355.8 L434.4,389.6"/></g>
<g fill="#111111"><ellipse cx="462.3" cy="410" rx="2" ry="1.5" transform="rotate(30 462.3 410)"/><ellipse cx="466.8" cy="414" rx="1.1" ry="2.3" transform="rotate(-20 466.8 414)"/><circle cx="470.6" cy="416.6" r="1.2"/></g></g>
<g id="eye3" transform="translate(-4.5,929.5)"><path d="M823,396.2C820.8,400 814.9,411.3 810,418.8C805.1,426.3 799.2,434.3 793.8,441.2C788.4,448.1 783.3,453.9 777.5,460C771.7,466.1 764.7,472.5 758.8,477.5C752.9,482.5 747.6,486.4 742,490C736.4,493.6 732,495.9 725,498.8C718,501.7 708.3,505 700,507.5C691.7,510 683.3,512.3 675,513.8C666.7,515.2 658.3,515.8 650,516.2C641.7,516.6 633.3,516.6 625,516.2C616.7,515.8 608.3,515.1 600,513.8C591.7,512.5 583.3,511 575,508.5C566.7,506 557.2,502.2 550,499C542.8,495.8 537.4,492.5 532,489.5C526.6,486.5 521.6,483.7 517.5,481C513.4,478.3 511.2,476.6 507.5,473.5C503.8,470.4 499.2,466.6 495,462.5C490.8,458.4 486.2,453.2 482.5,448.8C478.8,444.4 475.6,440.4 472.5,436.2C469.4,432 466.7,427.5 463.8,423.8C460.9,420.1 458.6,417.1 455,413.8C451.4,410.5 447.1,407.4 442.5,403.8C437.9,400.2 432.5,396.7 427.5,392.5C422.5,388.3 417.1,383.6 412.5,378.8C407.9,374 403.8,369 400,363.8C396.2,358.6 393.1,354 390,347.5C386.9,341 383.4,331.4 381.2,325C379,318.6 378.1,314.2 376.9,308.8C375.7,303.4 374.6,297.7 374,292.5C373.4,287.3 373.2,282.5 373.5,277.5C373.8,272.5 374.3,267.5 375.6,262.5C376.9,257.5 378.8,252.5 381.2,247.5C383.6,242.5 386.7,237.7 390,232.5C393.3,227.3 397.4,221.2 401.2,216.2C404.9,211.2 408.5,207.3 412.5,202.5C416.5,197.7 420.2,193.3 425,187.5C429.8,181.7 435.6,174.2 441.2,167.5C446.8,160.8 452.3,154.6 458.8,147.5C465.3,140.4 474,130.8 480,125C486,119.2 489.7,116.8 495,113C500.3,109.2 506.5,105.2 512,101.9C517.5,98.6 522.7,95.7 528,93C533.3,90.3 538.7,87.9 544,85.6C549.3,83.3 553.2,81.3 560,79C566.8,76.7 576.7,73.7 585,72C593.3,70.3 601.7,69.5 610,68.8C618.3,68.1 626.7,67.9 635,68C643.3,68.1 651.7,68.7 660,69.5C668.3,70.3 676.7,71.5 685,73C693.3,74.5 701.7,76.4 710,78.8C718.3,81.2 727.2,83.9 735,87.5C742.8,91.1 749.8,95.5 757,100.5C764.2,105.5 772.2,112.2 778.4,117.5C784.6,122.8 789.2,127.3 794.3,132.5C799.4,137.7 804.5,143.4 808.9,148.8C813.3,154.2 816.9,159.3 820.5,164.8C824.1,170.3 827.5,176.1 830.5,182C833.5,187.9 836.2,193.9 838.5,200.1C840.8,206.2 842.7,212.5 844.2,218.9C845.7,225.3 846.6,232.5 847.4,238.3C848.2,244.1 848.6,248.6 849.2,253.7C849.8,258.8 850.5,263.9 851,269C851.5,274.1 851.8,280.4 852.3,284.3C852.8,288.2 853.6,289.9 854.3,292.5C855,295.1 855.6,296.2 856.4,300C857.2,303.8 857.1,311 859,315.5C860.9,320 862.3,321.7 868,327C873.7,332.3 884.7,341.6 893,347.5C901.3,353.4 909.7,357.9 918,362.5C926.3,367.1 934.7,371.2 943,375C951.3,378.8 960.4,382.2 968,385C975.6,387.8 985.2,390.8 988.6,392L961.8,453C958.7,451 950.3,445.7 943,441.2C935.7,436.7 926.3,431 918,426.2C909.7,421.4 901.3,416.4 893,412.5C884.7,408.6 876.8,405.6 868,402.8C859.2,400 847.5,396.9 840,395.8C832.5,394.7 825.8,396.1 823,396.2Z" fill="url(#scl)" stroke="#2a3594" stroke-width="4.3" stroke-linejoin="miter"/>
<clipPath id="rcc"><path d="M810,390C809.8,391.5 810,394.3 808.8,399C807.6,403.7 805.5,412.6 802.8,418C800,423.5 795.8,427.3 792.3,431.6C788.9,435.9 785.5,439.9 782,443.7C778.6,447.5 775.4,450.9 771.7,454.4C768,458 763.8,461.7 759.9,465C756.1,468.2 752.2,471.2 748.7,473.8C745.2,476.4 742,478.5 738.7,480.5C735.5,482.5 732.8,484.1 729.4,485.8C726,487.4 722.9,488.7 718.5,490.3C714.1,491.9 708.3,493.8 703.2,495.3C698,496.9 692.8,498.4 687.8,499.7C682.7,501 678,502.1 673.1,502.9C668.2,503.7 663.5,504.1 658.5,504.5C653.6,504.9 648.5,505.1 643.5,505.2C638.5,505.3 633.5,505.3 628.5,505.1C623.5,504.9 618.5,504.6 613.5,504.1C608.6,503.6 603.6,503 598.7,502.2C593.8,501.3 588.9,500.4 584,499.1C579.1,497.8 574.2,496.2 569.3,494.4C564.5,492.6 559,490.3 554.8,488.3C550.6,486.3 547.5,484.4 544.1,482.4C540.7,480.5 537.2,478.3 534.1,476.5C531.1,474.6 528.2,472.8 525.8,471.3C523.5,469.8 522,468.8 520,467.3C518.1,465.9 516.3,464.4 514.1,462.6C511.9,460.8 509.1,458.5 506.7,456.3C504.2,454 501.8,451.6 499.4,449C496.9,446.4 494.3,443.3 492,440.7C489.8,438 487.8,435.7 485.9,433.2C484,430.7 482.8,429.4 480.5,425.9C478.3,422.5 477.6,421.8 472.5,412.5C467.4,403.2 455.1,391.2 450,370C444.9,348.8 442,313.3 442,285C442,256.7 445.4,221.7 450,200C454.6,178.3 466.4,162.3 469.4,155C472.4,147.7 466,158.2 468,155.9C470,153.6 477.4,145.6 481.4,141.4C485.5,137.1 489.1,133.4 492.2,130.6C495.3,127.8 497.3,126.5 500.2,124.3C503.2,122.2 506.7,119.7 510.1,117.5C513.4,115.2 516.9,113 520.2,111C523.5,109.1 526.5,107.3 529.6,105.6C532.8,103.9 535.8,102.4 539,100.8C542.2,99.3 545.6,97.8 548.7,96.4C551.9,94.9 554.4,93.6 557.8,92.3C561.2,90.9 564.6,89.7 569.1,88.2C573.5,86.8 579.4,85 584.4,83.8C589.3,82.6 593.9,81.8 598.8,81C603.8,80.3 608.9,79.8 613.9,79.4C618.9,79 623.8,78.6 628.8,78.5C633.8,78.4 638.8,78.6 643.8,78.8C648.9,79 653.9,79.5 659,80C664,80.5 669,81.1 674.1,81.9C679.1,82.6 684.1,83.5 689.1,84.6C694.1,85.6 699,86.8 704.1,88.1C709.1,89.5 714.5,90.9 719.4,92.5C724.3,94.2 728.9,95.9 733.4,98C737.8,100.1 741.9,102.4 746.2,105.1C750.5,107.9 755,111.1 759.3,114.4C763.6,117.6 768.3,121.6 772.1,124.9C775.8,128.1 778.8,130.8 781.9,133.8C785.1,136.9 788.1,139.9 791.1,143.1C794.1,146.3 797.2,149.7 799.8,152.9C802.5,156.2 804.8,159.2 807.1,162.5C809.3,165.7 811.3,168.9 813.3,172.3C815.3,175.6 817.3,179.1 819.1,182.6C820.9,186.1 822.5,189.6 824,193.2C825.6,196.7 826.9,200.3 828.2,203.9C829.4,207.6 830.6,211.2 831.5,214.9C832.5,218.5 833.3,222.1 833.9,225.9C834.6,229.7 835,234.1 835.5,237.7C835.9,241.3 836.2,244.3 836.5,247.6C836.9,250.8 837.1,253.9 837.5,257.1C837.8,260.2 838.3,263.4 838.6,266.5C838.9,269.7 839.2,272.7 839.5,275.9C839.7,279.1 839.8,282.6 840.3,286C840.8,289.3 841.6,292.3 842.3,296C843,299.7 843.8,304.1 844.6,308C845.4,311.9 846.8,317.6 847.2,319.5Z"/><path d="M584,93.8C586.2,93.2 592.4,91.3 597,90.3C601.6,89.3 606.7,88.3 611.5,87.7C616.3,87.2 621.2,87.1 626,87C630.8,86.9 635.7,87 640.5,87.2C645.4,87.4 650.2,87.8 655.1,88.3C660,88.8 665,89.3 669.9,90.1C674.7,90.8 679.6,91.6 684.4,92.6C689.3,93.6 694,94.7 698.9,95.9C703.8,97.2 708.9,98.7 713.6,100.2C718.2,101.8 722.7,103.3 726.8,105.2C731,107.1 734.6,109.2 738.5,111.7C742.5,114.1 746.6,116.9 750.8,119.9C755,123 759.8,126.8 763.7,129.9C767.5,133 770.7,135.7 773.9,138.6C777.1,141.5 779.9,144.2 782.9,147.2C785.8,150.2 789,153.5 791.7,156.5C794.4,159.6 796.8,162.5 799.1,165.5C801.3,168.6 803.3,171.5 805.3,174.7C807.3,177.8 809.3,181.1 811.1,184.4C812.9,187.7 814.6,191 816.1,194.4C817.7,197.7 819.1,201.1 820.4,204.5C821.7,207.9 822.9,211.4 823.9,214.8C825,218.2 825.8,221.5 826.6,225.1C827.3,228.6 827.8,232.7 828.4,236.3C828.9,239.9 829.3,243.2 829.7,246.5C830.1,249.8 830.4,252.7 830.7,255.8C831.1,259 831.6,262.4 832,265.5C832.3,268.5 832.6,271.2 832.9,274.4C833.2,277.6 833,281 833.8,284.7C834.6,288.5 836.3,293 837.6,297C838.9,301 839.9,305.2 841.5,309C843.1,312.8 844.8,316.2 847.2,319.5C849.6,322.8 852.5,325.6 856,329C859.5,332.4 861.8,335.3 868,340C874.2,344.7 884.7,351.8 893,357C901.3,362.2 909.7,366.7 918,371.2C926.3,375.7 934.7,380 943,383.8C951.3,387.6 961.4,391.2 968,393.8C974.6,396.4 980.3,398.6 982.8,399.6L962.5,445.8C959.2,443.6 950.4,437.2 943,432.5C935.6,427.8 926.3,422.3 918,417.5C909.7,412.7 901.3,407.6 893,403.8C884.7,400.1 875.6,397.3 868,395C860.4,392.7 854.2,391.2 847.5,390C840.8,388.8 832.9,388.1 827.5,388C822.1,387.9 817.9,389.1 815,389.4C812.1,389.7 811.5,388.4 810,390C808.5,391.6 808.2,394.8 806.3,399C804.4,403.2 801.5,410.3 798.4,415.1C795.3,419.9 791.1,423.9 787.5,428C783.9,432 780.4,435.8 776.8,439.3C773.3,442.9 770.1,446 766.3,449.2C762.5,452.4 758,455.7 754.1,458.6C750.2,461.4 746.2,464.1 742.6,466.3C739.1,468.5 736,470 733,471.8C730,473.5 727.7,475.2 724.7,476.7C721.7,478.3 718.9,479.5 714.9,481.1C710.8,482.7 705.2,484.7 700.2,486.3C695.3,487.8 690,489.3 685.2,490.5C680.4,491.7 676,492.6 671.4,493.3C666.9,494 662.5,494.3 657.8,494.6C653.1,494.9 648.1,495 643.2,495C638.4,495 633.7,495 628.9,494.7C624.1,494.5 619.9,494.2 614.5,493.6C609.2,493 602.3,492.2 597,491C591.7,489.8 584.9,487 582.5,486.2Z"/></clipPath>
<path d="M810,390C809.8,391.5 810,394.3 808.8,399C807.6,403.7 805.5,412.6 802.8,418C800,423.5 795.8,427.3 792.3,431.6C788.9,435.9 785.5,439.9 782,443.7C778.6,447.5 775.4,450.9 771.7,454.4C768,458 763.8,461.7 759.9,465C756.1,468.2 752.2,471.2 748.7,473.8C745.2,476.4 742,478.5 738.7,480.5C735.5,482.5 732.8,484.1 729.4,485.8C726,487.4 722.9,488.7 718.5,490.3C714.1,491.9 708.3,493.8 703.2,495.3C698,496.9 692.8,498.4 687.8,499.7C682.7,501 678,502.1 673.1,502.9C668.2,503.7 663.5,504.1 658.5,504.5C653.6,504.9 648.5,505.1 643.5,505.2C638.5,505.3 633.5,505.3 628.5,505.1C623.5,504.9 618.5,504.6 613.5,504.1C608.6,503.6 603.6,503 598.7,502.2C593.8,501.3 588.9,500.4 584,499.1C579.1,497.8 574.2,496.2 569.3,494.4C564.5,492.6 559,490.3 554.8,488.3C550.6,486.3 547.5,484.4 544.1,482.4C540.7,480.5 537.2,478.3 534.1,476.5C531.1,474.6 528.2,472.8 525.8,471.3C523.5,469.8 522,468.8 520,467.3C518.1,465.9 516.3,464.4 514.1,462.6C511.9,460.8 509.1,458.5 506.7,456.3C504.2,454 501.8,451.6 499.4,449C496.9,446.4 494.3,443.3 492,440.7C489.8,438 487.8,435.7 485.9,433.2C484,430.7 482.8,429.4 480.5,425.9C478.3,422.5 477.6,421.8 472.5,412.5C467.4,403.2 455.1,391.2 450,370C444.9,348.8 442,313.3 442,285C442,256.7 445.4,221.7 450,200C454.6,178.3 466.4,162.3 469.4,155C472.4,147.7 466,158.2 468,155.9C470,153.6 477.4,145.6 481.4,141.4C485.5,137.1 489.1,133.4 492.2,130.6C495.3,127.8 497.3,126.5 500.2,124.3C503.2,122.2 506.7,119.7 510.1,117.5C513.4,115.2 516.9,113 520.2,111C523.5,109.1 526.5,107.3 529.6,105.6C532.8,103.9 535.8,102.4 539,100.8C542.2,99.3 545.6,97.8 548.7,96.4C551.9,94.9 554.4,93.6 557.8,92.3C561.2,90.9 564.6,89.7 569.1,88.2C573.5,86.8 579.4,85 584.4,83.8C589.3,82.6 593.9,81.8 598.8,81C603.8,80.3 608.9,79.8 613.9,79.4C618.9,79 623.8,78.6 628.8,78.5C633.8,78.4 638.8,78.6 643.8,78.8C648.9,79 653.9,79.5 659,80C664,80.5 669,81.1 674.1,81.9C679.1,82.6 684.1,83.5 689.1,84.6C694.1,85.6 699,86.8 704.1,88.1C709.1,89.5 714.5,90.9 719.4,92.5C724.3,94.2 728.9,95.9 733.4,98C737.8,100.1 741.9,102.4 746.2,105.1C750.5,107.9 755,111.1 759.3,114.4C763.6,117.6 768.3,121.6 772.1,124.9C775.8,128.1 778.8,130.8 781.9,133.8C785.1,136.9 788.1,139.9 791.1,143.1C794.1,146.3 797.2,149.7 799.8,152.9C802.5,156.2 804.8,159.2 807.1,162.5C809.3,165.7 811.3,168.9 813.3,172.3C815.3,175.6 817.3,179.1 819.1,182.6C820.9,186.1 822.5,189.6 824,193.2C825.6,196.7 826.9,200.3 828.2,203.9C829.4,207.6 830.6,211.2 831.5,214.9C832.5,218.5 833.3,222.1 833.9,225.9C834.6,229.7 835,234.1 835.5,237.7C835.9,241.3 836.2,244.3 836.5,247.6C836.9,250.8 837.1,253.9 837.5,257.1C837.8,260.2 838.3,263.4 838.6,266.5C838.9,269.7 839.2,272.7 839.5,275.9C839.7,279.1 839.8,282.6 840.3,286C840.8,289.3 841.6,292.3 842.3,296C843,299.7 843.8,304.1 844.6,308C845.4,311.9 846.8,317.6 847.2,319.5Z" fill="#c8656e"/>
<path d="M584,93.8C586.2,93.2 592.4,91.3 597,90.3C601.6,89.3 606.7,88.3 611.5,87.7C616.3,87.2 621.2,87.1 626,87C630.8,86.9 635.7,87 640.5,87.2C645.4,87.4 650.2,87.8 655.1,88.3C660,88.8 665,89.3 669.9,90.1C674.7,90.8 679.6,91.6 684.4,92.6C689.3,93.6 694,94.7 698.9,95.9C703.8,97.2 708.9,98.7 713.6,100.2C718.2,101.8 722.7,103.3 726.8,105.2C731,107.1 734.6,109.2 738.5,111.7C742.5,114.1 746.6,116.9 750.8,119.9C755,123 759.8,126.8 763.7,129.9C767.5,133 770.7,135.7 773.9,138.6C777.1,141.5 779.9,144.2 782.9,147.2C785.8,150.2 789,153.5 791.7,156.5C794.4,159.6 796.8,162.5 799.1,165.5C801.3,168.6 803.3,171.5 805.3,174.7C807.3,177.8 809.3,181.1 811.1,184.4C812.9,187.7 814.6,191 816.1,194.4C817.7,197.7 819.1,201.1 820.4,204.5C821.7,207.9 822.9,211.4 823.9,214.8C825,218.2 825.8,221.5 826.6,225.1C827.3,228.6 827.8,232.7 828.4,236.3C828.9,239.9 829.3,243.2 829.7,246.5C830.1,249.8 830.4,252.7 830.7,255.8C831.1,259 831.6,262.4 832,265.5C832.3,268.5 832.6,271.2 832.9,274.4C833.2,277.6 833,281 833.8,284.7C834.6,288.5 836.3,293 837.6,297C838.9,301 839.9,305.2 841.5,309C843.1,312.8 844.8,316.2 847.2,319.5C849.6,322.8 852.5,325.6 856,329C859.5,332.4 861.8,335.3 868,340C874.2,344.7 884.7,351.8 893,357C901.3,362.2 909.7,366.7 918,371.2C926.3,375.7 934.7,380 943,383.8C951.3,387.6 961.4,391.2 968,393.8C974.6,396.4 980.3,398.6 982.8,399.6L962.5,445.8C959.2,443.6 950.4,437.2 943,432.5C935.6,427.8 926.3,422.3 918,417.5C909.7,412.7 901.3,407.6 893,403.8C884.7,400.1 875.6,397.3 868,395C860.4,392.7 854.2,391.2 847.5,390C840.8,388.8 832.9,388.1 827.5,388C822.1,387.9 817.9,389.1 815,389.4C812.1,389.7 811.5,388.4 810,390C808.5,391.6 808.2,394.8 806.3,399C804.4,403.2 801.5,410.3 798.4,415.1C795.3,419.9 791.1,423.9 787.5,428C783.9,432 780.4,435.8 776.8,439.3C773.3,442.9 770.1,446 766.3,449.2C762.5,452.4 758,455.7 754.1,458.6C750.2,461.4 746.2,464.1 742.6,466.3C739.1,468.5 736,470 733,471.8C730,473.5 727.7,475.2 724.7,476.7C721.7,478.3 718.9,479.5 714.9,481.1C710.8,482.7 705.2,484.7 700.2,486.3C695.3,487.8 690,489.3 685.2,490.5C680.4,491.7 676,492.6 671.4,493.3C666.9,494 662.5,494.3 657.8,494.6C653.1,494.9 648.1,495 643.2,495C638.4,495 633.7,495 628.9,494.7C624.1,494.5 619.9,494.2 614.5,493.6C609.2,493 602.3,492.2 597,491C591.7,489.8 584.9,487 582.5,486.2Z" fill="#f1d08f"/>
<path d="M820,341.9C823.8,343.5 835,347.9 843,351.5C851,355.1 859.7,359.9 868,363.8C876.3,367.7 884.7,370.2 893,375C901.3,379.8 909.7,387.1 918,392.5C926.3,397.9 934.7,403.6 943,407.5C951.3,411.4 962.4,414.3 968,416.2C973.6,418.1 975.1,418.5 976.5,419L974.5,425.3C973.4,425.1 973.2,425.3 968,423.8C962.8,422.3 951.3,419.5 943,416.2C934.7,412.9 926.3,408.8 918,403.8C909.7,398.8 901.3,391.2 893,386.2C884.7,381.2 876.3,377.8 868,373.8C859.7,369.9 851.6,365.4 843,362.5C834.4,359.6 820.7,357.5 816.2,356.5Z" fill="#9a4453"/>
<path d="M833,352.3C834.7,352.8 837.2,353 843,355.5C848.8,358 859.7,363.4 868,367.5C876.3,371.6 884.7,375 893,380C901.3,385 911.8,393.2 918,397.5C924.2,401.8 926.3,403.3 930.5,405.6C934.7,407.9 936.8,409 943,411.2C949.2,413.4 962.5,417.1 968,418.8C973.5,420.5 974.7,420.9 976,421.3" fill="none" stroke="#e3222b" stroke-width="2.6"/>
<path d="M831,356.5C833,357.1 836.8,357.6 843,360C849.2,362.4 859.7,367.4 868,371.2C876.3,374.9 884.7,378.7 893,382.5C901.3,386.3 909.7,389.9 918,393.8C926.3,397.8 934.7,401.6 943,406.2C951.3,410.8 962.8,418.1 968,421.2C973.2,424.3 973,424 974,424.6" fill="none" stroke="#23703d" stroke-width="2"/>
<g clip-path="url(#rcc)">
<path d="M472.5,412.5C469.4,409 468.9,404.2 467.5,398.8C466.1,393.4 464.9,387.3 463.8,380C462.8,372.7 461.9,361.7 461.2,355C460.5,348.3 459.9,345.7 459.4,340C458.9,334.3 458.4,329.3 458,321C457.6,312.7 457.2,300.6 457,290C456.8,279.4 456.7,263.8 456.5,257.5C456.3,251.2 455.9,255.4 455.6,252.5C455.4,249.6 455,246.2 455,240C455,233.8 454.9,223 455.6,215C456.4,207 457.7,198.7 459.5,192C461.3,185.3 464.6,181.2 466.2,175C467.8,168.8 466.9,158.3 469.4,155C471.9,151.7 480.1,150.8 481,155C481.9,159.2 476.2,172.1 474.5,180.5C472.8,188.9 471.9,197.2 470.8,205.5C469.8,213.8 468.7,221.9 468.2,230.5C467.7,239.1 467.6,241.9 467.6,257C467.6,272.1 467.6,306.3 468,321C468.4,335.7 469.2,336.8 470,345C470.8,353.2 471.7,362.2 473,370C474.3,377.8 475.8,383.7 478,392C480.2,400.3 486.9,416.6 486,420C485.1,423.4 475.6,416 472.5,412.5Z" fill="url(#band3)"/>
<path d="M472,218.5C473.9,208.2 476.6,196.8 479.5,188.5C482.4,180.2 486.4,172.7 489.5,168.5C492.6,164.3 495.9,161.8 498.2,163.5C500.5,165.2 502.1,174.8 503.2,178.5C504.2,182.2 503.9,185.8 504.5,186C505.1,186.2 505.8,182.9 507,180C508.2,177.1 510.1,172.5 512,168.5C513.9,164.5 516.5,156 518.2,156C519.9,156 521,163.5 522,168.5C523,173.5 523.8,184.8 524.5,186C525.2,187.2 525.4,180.2 526,176C526.6,171.8 525.9,163.7 528.2,161C530.5,158.3 537,138.5 540,160C543,181.5 546,246 546,290C546,334 543,401.8 540,424C537,446.2 530.5,425.7 528.2,423C525.9,420.3 526.6,412.2 526,408C525.4,403.8 525.2,396.8 524.5,398C523.8,399.2 523,410.5 522,415.5C521,420.5 519.9,428 518.2,428C516.5,428 513.9,419.5 512,415.5C510.1,411.5 508.2,406.9 507,404C505.8,401.1 505.1,397.8 504.5,398C503.9,398.2 504.2,401.8 503.2,405.5C502.1,409.2 500.5,418.8 498.2,420.5C495.9,422.2 492.6,419.7 489.5,415.5C486.4,411.3 482.4,403.8 479.5,395.5C476.6,387.2 473.8,376.4 472,365.5C470.2,354.6 469.2,342.6 468.5,330C467.8,317.4 467.7,303.3 467.6,290C467.5,276.7 467.3,261.9 468,250C468.7,238.1 470.1,228.8 472,218.5Z" fill="url(#blue3)"/>
<path d="M496.5,170C496.2,173.3 495.6,183.8 495,190C494.4,196.2 493.3,204.2 493,207" fill="none" stroke="#7d9fdc" stroke-width="0.8" opacity="0.6"/>
<path d="M501.2,171C501.4,174.2 502.1,184.2 502.5,190C502.9,195.8 503.3,202.9 503.5,205.5" fill="none" stroke="#7d9fdc" stroke-width="0.8" opacity="0.6"/>
<path d="M503.8,170C504.2,173.3 505.4,184.1 506,190C506.6,195.9 507.2,202.7 507.5,205.2" fill="none" stroke="#7d9fdc" stroke-width="0.8" opacity="0.6"/>
<path d="M512.5,162.5C512.3,166.2 511.9,177.9 511.5,185C511.1,192.1 510.2,201.9 510,205.3" fill="none" stroke="#7d9fdc" stroke-width="0.8" opacity="0.6"/>
<path d="M516.2,165C515.9,168.8 515.1,181.2 514.5,188C513.9,194.8 512.8,202.8 512.5,205.8" fill="none" stroke="#7d9fdc" stroke-width="0.8" opacity="0.6"/>
<path d="M497.5,375.5C497.9,378.2 498.9,387.1 500,392C501.1,396.9 503.2,402.8 503.8,405" fill="none" stroke="#7d9fdc" stroke-width="0.8" opacity="0.6"/>
<path d="M503,376C503.3,378.7 504.4,387.3 505,392C505.6,396.7 506.2,402 506.5,404" fill="none" stroke="#7d9fdc" stroke-width="0.8" opacity="0.6"/>
<path d="M509,376.3C509.2,378.9 509.5,387.2 510.5,392C511.5,396.8 514.2,402.8 515,405" fill="none" stroke="#7d9fdc" stroke-width="0.8" opacity="0.6"/>
<path d="M514,375.8C514.5,378.2 515.8,385.6 517,390C518.2,394.4 520.3,400 521,402" fill="none" stroke="#7d9fdc" stroke-width="0.8" opacity="0.6"/>
<path d="M505.5,376.2C506,379.3 507.4,389.7 508.5,395C509.6,400.3 511.4,405.8 512,408" fill="none" stroke="#7d9fdc" stroke-width="0.8" opacity="0.6"/>
</g>
<g clip-path="url(#rcc)"><circle cx="670.7" cy="90.5" r="16" fill="url(#spot)"/><circle cx="780.7" cy="145.5" r="16" fill="url(#spot)"/><circle cx="823.7" cy="234.3" r="16" fill="url(#spot)"/><circle cx="832" cy="324.3" r="16" fill="url(#spot)"/><circle cx="813.3" cy="371.7" r="16" fill="url(#spot)"/><circle cx="778.3" cy="430.5" r="16" fill="url(#spot)"/><circle cx="694.5" cy="489.3" r="16" fill="url(#spot)"/></g>
<linearGradient id="sgc" gradientUnits="userSpaceOnUse" x1="545" y1="0" x2="625" y2="0"><stop offset="0" stop-color="#b8506e" stop-opacity="0"/><stop offset="1" stop-color="#b8506e" stop-opacity="1"/></linearGradient>
<clipPath id="vcc"><path d="M584,94.5C591.3,93.3 600.5,92.2 609,91.8C617.5,91.4 626.5,91.8 635,92.1C643.5,92.3 651.7,92.3 660.1,93.3C668.5,94.2 676.9,95.3 685.3,97.5C693.6,99.8 702,103.1 710.4,106.6C718.8,110 727.1,113.5 735.5,118.1C743.9,122.7 752.8,128.7 760.6,134.2C768.5,139.8 776.6,145.5 782.6,151.3C788.7,157.2 792.1,161.4 796.8,169.4C801.5,177.4 807.3,190 810.9,199.5C814.5,209 816.4,218 818.4,226.4C820.4,234.7 821.6,240.3 822.9,249.8C824.2,259.3 825.8,275.2 826.2,283.6C826.6,291.9 825.6,294.1 825.2,300C824.8,305.9 824.7,311.9 824,318.9C823.3,326 822.1,335.9 821,342.2C819.8,348.4 818.8,351 817.1,356.5C815.5,362.1 813.6,368.9 810.9,375.4C808.2,381.9 804.6,388.8 800.9,395.5C797.1,402.2 793.3,408.5 788.3,415.6C783.3,422.7 776.7,431.7 770.7,438.2C764.7,444.8 759.6,449.8 752.1,454.8C744.6,459.8 734.1,464.2 725.5,468.4C716.8,472.5 708.7,476.6 700.3,479.7C692,482.9 683.6,485.3 675.2,487.1C666.8,488.9 658.4,490 650.1,490.6C641.7,491.2 633.3,491.1 625,490.8C616.6,490.5 607.1,489.6 600,488.8C592.9,488 588.3,488.1 582.5,486.2C576.7,484.3 570.4,481 565,477.5C559.6,474 554.6,470 550,465C545.4,460 540.8,454.2 537.5,447.5C534.2,440.8 532,432.9 530.5,425C529,417.1 529,407 528.8,400C528.6,393 529,389.2 529.6,383C530.2,376.8 531.2,370.1 532.4,362.5C533.5,354.9 535.1,345.8 536.2,337.5C537.3,329.2 538.4,320.8 539,312.5C539.5,304.2 539.7,295.8 539.4,287.5C539.1,279.2 538.1,270.8 537.2,262.5C536.3,254.2 535.6,247.1 534.1,237.5C532.7,227.9 530.1,214.6 528.4,205C526.7,195.4 525.2,188.3 524,180C522.8,171.7 521.7,162.3 521.5,155C521.3,147.7 521.8,141.4 522.8,136.2C523.8,131 525.5,127.5 527.8,123.8C530.1,120.1 533,116.9 536.5,113.8C540,110.7 544.2,107.5 549,105C553.8,102.5 559.4,100.5 565.2,98.8C571,97 576.7,95.7 584,94.5Z"/></clipPath>
<path d="M584,94.5C591.3,93.3 600.5,92.2 609,91.8C617.5,91.4 626.5,91.8 635,92.1C643.5,92.3 651.7,92.3 660.1,93.3C668.5,94.2 676.9,95.3 685.3,97.5C693.6,99.8 702,103.1 710.4,106.6C718.8,110 727.1,113.5 735.5,118.1C743.9,122.7 752.8,128.7 760.6,134.2C768.5,139.8 776.6,145.5 782.6,151.3C788.7,157.2 792.1,161.4 796.8,169.4C801.5,177.4 807.3,190 810.9,199.5C814.5,209 816.4,218 818.4,226.4C820.4,234.7 821.6,240.3 822.9,249.8C824.2,259.3 825.8,275.2 826.2,283.6C826.6,291.9 825.6,294.1 825.2,300C824.8,305.9 824.7,311.9 824,318.9C823.3,326 822.1,335.9 821,342.2C819.8,348.4 818.8,351 817.1,356.5C815.5,362.1 813.6,368.9 810.9,375.4C808.2,381.9 804.6,388.8 800.9,395.5C797.1,402.2 793.3,408.5 788.3,415.6C783.3,422.7 776.7,431.7 770.7,438.2C764.7,444.8 759.6,449.8 752.1,454.8C744.6,459.8 734.1,464.2 725.5,468.4C716.8,472.5 708.7,476.6 700.3,479.7C692,482.9 683.6,485.3 675.2,487.1C666.8,488.9 658.4,490 650.1,490.6C641.7,491.2 633.3,491.1 625,490.8C616.6,490.5 607.1,489.6 600,488.8C592.9,488 588.3,488.1 582.5,486.2C576.7,484.3 570.4,481 565,477.5C559.6,474 554.6,470 550,465C545.4,460 540.8,454.2 537.5,447.5C534.2,440.8 532,432.9 530.5,425C529,417.1 529,407 528.8,400C528.6,393 529,389.2 529.6,383C530.2,376.8 531.2,370.1 532.4,362.5C533.5,354.9 535.1,345.8 536.2,337.5C537.3,329.2 538.4,320.8 539,312.5C539.5,304.2 539.7,295.8 539.4,287.5C539.1,279.2 538.1,270.8 537.2,262.5C536.3,254.2 535.6,247.1 534.1,237.5C532.7,227.9 530.1,214.6 528.4,205C526.7,195.4 525.2,188.3 524,180C522.8,171.7 521.7,162.3 521.5,155C521.3,147.7 521.8,141.4 522.8,136.2C523.8,131 525.5,127.5 527.8,123.8C530.1,120.1 533,116.9 536.5,113.8C540,110.7 544.2,107.5 549,105C553.8,102.5 559.4,100.5 565.2,98.8C571,97 576.7,95.7 584,94.5Z" fill="url(#vit3)"/>
<g clip-path="url(#vcc)"><path d="M675,486.2C670.8,486.8 658.3,489.3 650,490C641.7,490.7 633.3,490.7 625,490.5C616.7,490.3 607.1,489.5 600,488.8C592.9,488.1 588.3,488.1 582.5,486.2C576.7,484.3 570.4,481 565,477.5C559.6,474 554.6,470 550,465C545.4,460 540.8,454.2 537.5,447.5C534.2,440.8 532,432.9 530.5,425C529,417.1 529,407 528.8,400C528.6,393 528.8,389.2 529.2,383C529.6,376.8 530.2,370.1 531,362.5C531.8,354.9 533.2,345.8 534,337.5C534.8,329.2 535.7,320.8 536,312.5C536.3,304.2 536.2,295.8 536,287.5C535.8,279.2 535.1,270.8 534.5,262.5C533.9,254.2 533.3,247.1 532.2,237.5C531.1,227.9 529.2,214.6 527.8,205C526.4,195.4 525,188.3 524,180C523,171.7 521.7,162.3 521.5,155C521.3,147.7 521.8,141.4 522.8,136.2C523.8,131 525.5,127.5 527.8,123.8C530.1,120.1 533,116.9 536.5,113.8C540,110.7 544.2,107.5 549,105C553.8,102.5 559.4,100.5 565.2,98.8C571,97 576.7,95.7 584,94.5C591.3,93.3 600.5,92.2 609,91.9C617.5,91.6 626.5,92.2 635,92.5C643.5,92.8 655.8,93.8 660,94" fill="none" stroke="url(#hg)" stroke-width="34" opacity="0.5" filter="url(#b7)"/></g>
<g clip-path="url(#vcc)"><path d="M527.8,123.8C529.2,122.1 533,116.9 536.5,113.8C540,110.7 544.2,107.5 549,105C553.8,102.5 559.4,100.5 565.2,98.8C571,97 576.7,95.7 584,94.5C591.3,93.3 600.5,92.2 609,91.9C617.5,91.6 626.5,92.2 635,92.5C643.5,92.8 651.7,93 660,94C668.3,95 676.7,96.2 685,98.5C693.3,100.8 701.7,104.1 710,107.5C718.3,110.9 726.7,114.4 735,119C743.3,123.6 752.2,129.5 760,135C767.8,140.5 775.9,146.2 781.9,152C787.9,157.8 791.3,162 796,170C800.7,178 806.4,190.6 810,200C813.6,209.4 815.5,218.4 817.5,226.7C819.5,235 820.6,240.5 821.9,250C823.2,259.5 824.8,275.3 825.2,283.6C825.6,291.9 824.6,294.1 824.2,300C823.8,305.9 823.7,311.8 823,318.8C822.3,325.8 821.1,335.7 820,341.9C818.9,348.1 817.9,350.7 816.2,356.2C814.5,361.7 812.7,368.5 810,375C807.3,381.5 803.8,388.3 800,395C796.2,401.7 792.5,407.9 787.5,415C782.5,422.1 776,431 770,437.5C764,444 759,449 751.5,454C744,459 733.6,463.4 725,467.5C716.4,471.6 708.3,475.7 700,478.8C691.7,481.9 683.3,484.3 675,486.2C666.7,488.1 658.3,489.3 650,490C641.7,490.7 633.3,490.7 625,490.5C616.7,490.3 607.1,489.5 600,488.8C592.9,488.1 588.3,488.1 582.5,486.2C576.7,484.3 570.4,481 565,477.5C559.6,474 554.6,470 550,465C545.4,460 540.8,454.2 537.5,447.5C534.2,440.8 531.7,428.8 530.5,425" fill="none" stroke="url(#sgc)" stroke-width="30" opacity="0.6" filter="url(#b7)"/><path d="M584,94.5C591.3,93.3 600.5,92.2 609,91.8C617.5,91.4 626.5,91.8 635,92.1C643.5,92.3 651.7,92.3 660.1,93.3C668.5,94.2 676.9,95.3 685.3,97.5C693.6,99.8 702,103.1 710.4,106.6C718.8,110 727.1,113.5 735.5,118.1C743.9,122.7 752.8,128.7 760.6,134.2C768.5,139.8 776.6,145.5 782.6,151.3C788.7,157.2 792.1,161.4 796.8,169.4C801.5,177.4 807.3,190 810.9,199.5C814.5,209 816.4,218 818.4,226.4C820.4,234.7 821.6,240.3 822.9,249.8C824.2,259.3 825.8,275.2 826.2,283.6C826.6,291.9 825.6,294.1 825.2,300C824.8,305.9 824.7,311.9 824,318.9C823.3,326 822.1,335.9 821,342.2C819.8,348.4 818.8,351 817.1,356.5C815.5,362.1 813.6,368.9 810.9,375.4C808.2,381.9 804.6,388.8 800.9,395.5C797.1,402.2 793.3,408.5 788.3,415.6C783.3,422.7 776.7,431.7 770.7,438.2C764.7,444.8 759.6,449.8 752.1,454.8C744.6,459.8 734.1,464.2 725.5,468.4C716.8,472.5 708.7,476.6 700.3,479.7C692,482.9 683.6,485.3 675.2,487.1C666.8,488.9 658.4,490 650.1,490.6C641.7,491.2 633.3,491.1 625,490.8C616.6,490.5 607.1,489.6 600,488.8C592.9,488 588.3,488.1 582.5,486.2C576.7,484.3 570.4,481 565,477.5C559.6,474 554.6,470 550,465C545.4,460 540.8,454.2 537.5,447.5C534.2,440.8 532,432.9 530.5,425C529,417.1 529,407 528.8,400C528.6,393 529,389.2 529.6,383C530.2,376.8 531.2,370.1 532.4,362.5C533.5,354.9 535.1,345.8 536.2,337.5C537.3,329.2 538.4,320.8 539,312.5C539.5,304.2 539.7,295.8 539.4,287.5C539.1,279.2 538.1,270.8 537.2,262.5C536.3,254.2 535.6,247.1 534.1,237.5C532.7,227.9 530.1,214.6 528.4,205C526.7,195.4 525.2,188.3 524,180C522.8,171.7 521.7,162.3 521.5,155C521.3,147.7 521.8,141.4 522.8,136.2C523.8,131 525.5,127.5 527.8,123.8C530.1,120.1 533,116.9 536.5,113.8C540,110.7 544.2,107.5 549,105C553.8,102.5 559.4,100.5 565.2,98.8C571,97 576.7,95.7 584,94.5Z" fill="none" stroke="#c87890" stroke-width="3" opacity="0.5" filter="url(#b1)"/></g>
<clipPath id="ccc"><path d="M444,194C443.1,193.3 441.6,188.6 438.8,190C436.1,191.4 431.5,198.3 427.5,202.5C423.5,206.7 418.6,210.8 415,215C411.4,219.2 408.8,223.3 406.2,227.5C403.6,231.7 401.4,235.8 399.4,240C397.4,244.2 395.8,248.3 394.4,252.5C393,256.7 392,260.8 391.2,265C390.4,269.2 389.7,273.3 389.4,277.5C389.1,281.7 389.4,285.8 389.6,290C389.8,294.2 390,298.3 390.6,302.5C391.2,306.7 392.2,310.8 393.1,315C394,319.2 394.9,323.3 396.2,327.5C397.4,331.7 398.9,335.8 400.6,340C402.3,344.2 404.1,348.3 406.2,352.5C408.3,356.7 410.8,361.5 413.1,365C415.4,368.5 417.6,370.8 420,373.5C422.4,376.2 424.2,377.9 427.5,381C430.8,384.1 435.8,388.5 440,392C444.2,395.5 448.6,399.2 452.5,402C456.4,404.8 461.7,407.8 463.5,409L465,407.5C464.2,406.2 462.8,403.8 460.5,400C458.2,396.2 454.4,389.9 451,384.5C447.6,379.1 442.8,372.8 440,367.5C437.2,362.2 435.9,357.1 434.5,352.5C433.1,347.9 432.4,344.2 431.5,340C430.6,335.8 430,331.7 429.4,327.5C428.8,323.3 428.5,319.2 428.1,315C427.7,310.8 427.2,306.7 426.9,302.5C426.6,298.3 426.4,294.2 426.2,290C426,285.8 425.9,281.7 425.9,277.5C425.9,273.3 426,269.2 426.2,265C426.4,260.8 426.5,256.7 426.9,252.5C427.3,248.3 428.1,244.2 428.8,240C429.5,235.8 430.2,231.7 431.2,227.5C432.2,223.3 433.8,219.1 435,215C436.2,210.9 436.4,208 438.5,203C440.6,198 446,188 447.5,185Z"/></clipPath>
<path d="M444,194C443.1,193.3 441.6,188.6 438.8,190C436.1,191.4 431.5,198.3 427.5,202.5C423.5,206.7 418.6,210.8 415,215C411.4,219.2 408.8,223.3 406.2,227.5C403.6,231.7 401.4,235.8 399.4,240C397.4,244.2 395.8,248.3 394.4,252.5C393,256.7 392,260.8 391.2,265C390.4,269.2 389.7,273.3 389.4,277.5C389.1,281.7 389.4,285.8 389.6,290C389.8,294.2 390,298.3 390.6,302.5C391.2,306.7 392.2,310.8 393.1,315C394,319.2 394.9,323.3 396.2,327.5C397.4,331.7 398.9,335.8 400.6,340C402.3,344.2 404.1,348.3 406.2,352.5C408.3,356.7 410.8,361.5 413.1,365C415.4,368.5 417.6,370.8 420,373.5C422.4,376.2 424.2,377.9 427.5,381C430.8,384.1 435.8,388.5 440,392C444.2,395.5 448.6,399.2 452.5,402C456.4,404.8 461.7,407.8 463.5,409L465,407.5C464.2,406.2 462.8,403.8 460.5,400C458.2,396.2 454.4,389.9 451,384.5C447.6,379.1 442.8,372.8 440,367.5C437.2,362.2 435.9,357.1 434.5,352.5C433.1,347.9 432.4,344.2 431.5,340C430.6,335.8 430,331.7 429.4,327.5C428.8,323.3 428.5,319.2 428.1,315C427.7,310.8 427.2,306.7 426.9,302.5C426.6,298.3 426.4,294.2 426.2,290C426,285.8 425.9,281.7 425.9,277.5C425.9,273.3 426,269.2 426.2,265C426.4,260.8 426.5,256.7 426.9,252.5C427.3,248.3 428.1,244.2 428.8,240C429.5,235.8 430.2,231.7 431.2,227.5C432.2,223.3 433.8,219.1 435,215C436.2,210.9 436.4,208 438.5,203C440.6,198 446,188 447.5,185Z" fill="url(#cham3)"/>
<g clip-path="url(#ccc)"><path d="M444,194C443.1,193.3 441.6,188.6 438.8,190C436.1,191.4 431.5,198.3 427.5,202.5C423.5,206.7 418.6,210.8 415,215C411.4,219.2 408.8,223.3 406.2,227.5C403.6,231.7 401.4,235.8 399.4,240C397.4,244.2 395.8,248.3 394.4,252.5C393,256.7 392,260.8 391.2,265C390.4,269.2 389.7,273.3 389.4,277.5C389.1,281.7 389.4,285.8 389.6,290C389.8,294.2 390,298.3 390.6,302.5C391.2,306.7 392.2,310.8 393.1,315C394,319.2 394.9,323.3 396.2,327.5C397.4,331.7 398.9,335.8 400.6,340C402.3,344.2 404.1,348.3 406.2,352.5C408.3,356.7 410.8,361.5 413.1,365C415.4,368.5 417.6,370.8 420,373.5C422.4,376.2 424.2,377.9 427.5,381C430.8,384.1 435.8,388.5 440,392C444.2,395.5 448.6,399.2 452.5,402C456.4,404.8 461.7,407.8 463.5,409" fill="none" stroke="#8ea6de" stroke-width="18" opacity="0.75" filter="url(#b5)"/></g>
<path d="M444,194C443.1,193.3 441.6,188.6 438.8,190C436.1,191.4 431.5,198.3 427.5,202.5C423.5,206.7 418.6,210.8 415,215C411.4,219.2 408.8,223.3 406.2,227.5C403.6,231.7 401.4,235.8 399.4,240C397.4,244.2 395.8,248.3 394.4,252.5C393,256.7 392,260.8 391.2,265C390.4,269.2 389.7,273.3 389.4,277.5C389.1,281.7 389.4,285.8 389.6,290C389.8,294.2 390,298.3 390.6,302.5C391.2,306.7 392.2,310.8 393.1,315C394,319.2 394.9,323.3 396.2,327.5C397.4,331.7 398.9,335.8 400.6,340C402.3,344.2 404.1,348.3 406.2,352.5C408.3,356.7 410.8,361.5 413.1,365C415.4,368.5 417.6,370.8 420,373.5C422.4,376.2 424.2,377.9 427.5,381C430.8,384.1 435.8,388.5 440,392C444.2,395.5 448.6,399.2 452.5,402C456.4,404.8 461.7,407.8 463.5,409" fill="none" stroke="#ffffff" stroke-width="1" opacity="0.7"/>
<clipPath id="icc"><path d="M469.4,155C467.8,157.1 463.6,162.5 460,167.5C456.4,172.5 451.1,179.1 447.5,185C443.9,190.9 440.6,198 438.5,203C436.4,208 436.2,210.9 435,215C433.8,219.1 432.2,223.3 431.2,227.5C430.2,231.7 429.5,235.8 428.8,240C428.1,244.2 427.3,248.3 426.9,252.5C426.5,256.7 426.4,260.8 426.2,265C426,269.2 425.9,273.3 425.9,277.5C425.9,281.7 426,285.8 426.2,290C426.4,294.2 426.6,298.3 426.9,302.5C427.2,306.7 427.7,310.8 428.1,315C428.5,319.2 428.8,323.3 429.4,327.5C430,331.7 430.6,335.8 431.5,340C432.4,344.2 433.1,347.9 434.5,352.5C435.9,357.1 437.2,362.2 440,367.5C442.8,372.8 447.6,379.1 451,384.5C454.4,389.9 458.2,396.2 460.5,400C462.8,403.8 463,405.4 465,407.5C467,409.6 471.2,411.7 472.5,412.5L472.5,412.5C471.7,410.2 468.9,404.2 467.5,398.8C466.1,393.4 464.9,387.3 463.8,380C462.8,372.7 461.9,361.7 461.2,355C460.5,348.3 459.9,345.7 459.4,340C458.9,334.3 458.4,329.3 458,321C457.6,312.7 457.2,300.6 457,290C456.8,279.4 456.7,263.8 456.5,257.5C456.3,251.2 455.9,255.4 455.6,252.5C455.4,249.6 455,246.2 455,240C455,233.8 454.9,223 455.6,215C456.4,207 457.7,198.7 459.5,192C461.3,185.3 464.6,181.2 466.2,175C467.8,168.8 468.9,158.3 469.4,155Z"/></clipPath>
<path d="M469.4,155C467.8,157.1 463.6,162.5 460,167.5C456.4,172.5 451.1,179.1 447.5,185C443.9,190.9 440.6,198 438.5,203C436.4,208 436.2,210.9 435,215C433.8,219.1 432.2,223.3 431.2,227.5C430.2,231.7 429.5,235.8 428.8,240C428.1,244.2 427.3,248.3 426.9,252.5C426.5,256.7 426.4,260.8 426.2,265C426,269.2 425.9,273.3 425.9,277.5C425.9,281.7 426,285.8 426.2,290C426.4,294.2 426.6,298.3 426.9,302.5C427.2,306.7 427.7,310.8 428.1,315C428.5,319.2 428.8,323.3 429.4,327.5C430,331.7 430.6,335.8 431.5,340C432.4,344.2 433.1,347.9 434.5,352.5C435.9,357.1 437.2,362.2 440,367.5C442.8,372.8 447.6,379.1 451,384.5C454.4,389.9 458.2,396.2 460.5,400C462.8,403.8 463,405.4 465,407.5C467,409.6 471.2,411.7 472.5,412.5L472.5,412.5C471.7,410.2 468.9,404.2 467.5,398.8C466.1,393.4 464.9,387.3 463.8,380C462.8,372.7 461.9,361.7 461.2,355C460.5,348.3 459.9,345.7 459.4,340C458.9,334.3 458.4,329.3 458,321C457.6,312.7 457.2,300.6 457,290C456.8,279.4 456.7,263.8 456.5,257.5C456.3,251.2 455.9,255.4 455.6,252.5C455.4,249.6 455,246.2 455,240C455,233.8 454.9,223 455.6,215C456.4,207 457.7,198.7 459.5,192C461.3,185.3 464.6,181.2 466.2,175C467.8,168.8 468.9,158.3 469.4,155Z" fill="#a9c8d8"/>
<g clip-path="url(#icc)"><path d="M469.4,155C467.8,157.1 463.6,162.5 460,167.5C456.4,172.5 451.1,179.1 447.5,185C443.9,190.9 440.6,198 438.5,203C436.4,208 436.2,210.9 435,215C433.8,219.1 432.2,223.3 431.2,227.5C430.2,231.7 429.5,235.8 428.8,240C428.1,244.2 427.3,248.3 426.9,252.5C426.5,256.7 426.4,260.8 426.2,265C426,269.2 425.9,273.3 425.9,277.5C425.9,281.7 426,285.8 426.2,290C426.4,294.2 426.6,298.3 426.9,302.5C427.2,306.7 427.7,310.8 428.1,315C428.5,319.2 428.8,323.3 429.4,327.5C430,331.7 430.6,335.8 431.5,340C432.4,344.2 433.1,347.9 434.5,352.5C435.9,357.1 437.2,362.2 440,367.5C442.8,372.8 447.6,379.1 451,384.5C454.4,389.9 458.2,396.2 460.5,400C462.8,403.8 463,405.4 465,407.5C467,409.6 471.2,411.7 472.5,412.5" fill="none" stroke="#47769a" stroke-width="26" filter="url(#b5)"/><path d="M472.5,412.5C471.7,410.2 468.9,404.2 467.5,398.8C466.1,393.4 464.9,387.3 463.8,380C462.8,372.7 461.9,361.7 461.2,355C460.5,348.3 459.9,345.7 459.4,340C458.9,334.3 458.4,329.3 458,321C457.6,312.7 457.2,300.6 457,290C456.8,279.4 456.7,263.8 456.5,257.5C456.3,251.2 455.9,255.4 455.6,252.5C455.4,249.6 455,246.2 455,240C455,233.8 454.9,223 455.6,215C456.4,207 457.7,198.7 459.5,192C461.3,185.3 464.6,181.2 466.2,175C467.8,168.8 468.9,158.3 469.4,155" fill="none" stroke="#bcd8e2" stroke-width="2.5" opacity="0.55" filter="url(#b1)" transform="translate(-4,0)"/></g>
<path d="M455,259.6C457.1,257.4 460.6,257.5 464,256.8C467.4,256.1 473.4,253 475.2,255.2C477,257.4 475.2,264.2 475,270C474.8,275.8 474,284.2 474,290C474,295.8 474.6,299.6 475,305C475.4,310.4 477.9,319.6 476.5,322.7C475.1,325.8 469.4,324.1 466.5,323.3C463.6,322.5 460.9,320.3 458.8,317.7C456.7,315.1 455.2,311.6 453.8,307.7C452.4,303.8 451.2,298.4 450.6,294C450,289.6 449.9,285.5 450,281.5C450.1,277.5 450.4,273.8 451.2,270.2C452,266.6 452.9,261.8 455,259.6Z" fill="url(#pup3)"/>
<path d="M455,259.6C457.1,257.4 460.6,257.5 464,256.8C467.4,256.1 473.4,253 475.2,255.2C477,257.4 475.2,264.2 475,270C474.8,275.8 474,284.2 474,290C474,295.8 474.6,299.6 475,305C475.4,310.4 477.9,319.6 476.5,322.7C475.1,325.8 469.4,324.1 466.5,323.3C463.6,322.5 460.9,320.3 458.8,317.7C456.7,315.1 455.2,311.6 453.8,307.7C452.4,303.8 451.2,298.4 450.6,294C450,289.6 449.9,285.5 450,281.5C450.1,277.5 450.4,273.8 451.2,270.2C452,266.6 452.9,261.8 455,259.6Z" fill="url(#pupv)"/>
<g transform="translate(4.5,1.5) translate(533.5 290) scale(0.96 1) translate(-533.5 -290)">
<path d="M506,205.6C502.2,205.7 497.2,207 493.5,208.8C489.8,210.6 486.6,212.5 483.5,216.2C480.4,219.9 477.3,226 474.8,231.2C472.3,236.4 470.3,242.3 468.5,247.5C466.7,252.7 465.1,256.9 464,262.5C462.9,268.1 462.4,274.9 462.2,281.2C462,287.4 462.3,293.7 462.9,300C463.5,306.3 464.4,312.6 466,318.8C467.6,325.1 469.7,331.3 472.2,337.5C474.7,343.7 477.9,351 481,356.2C484.1,361.4 487.2,365.8 491,368.8C494.8,371.8 500,373.5 503.5,374.4C507,375.3 509.1,375.3 512.2,374.4C515.3,373.5 519.5,371.8 522.2,368.8C524.9,365.8 526.9,361.4 528.5,356.2C530.1,351 530.8,344.8 531.6,337.5C532.4,330.2 533.2,320.8 533.5,312.5C533.8,304.2 533.7,295.8 533.5,287.5C533.3,279.2 532.8,270.8 532.2,262.5C531.6,254.2 531,244.8 529.8,237.5C528.6,230.2 527.1,223.7 524.8,218.8C522.5,213.9 519.1,210.2 516,208C512.9,205.8 509.8,205.5 506,205.6Z" fill="url(#lens)" stroke="#ffffff" stroke-opacity="0.85" stroke-width="1.2"/>
</g>
<g fill="#111111"><ellipse cx="462.3" cy="410" rx="2" ry="1.5" transform="rotate(30 462.3 410)"/><ellipse cx="466.8" cy="414" rx="1.1" ry="2.3" transform="rotate(-20 466.8 414)"/><circle cx="470.6" cy="416.6" r="1.2"/></g></g>
<path d="M617.5,1103.8L648.7,1060.1L638,1053.8L666.2,1043.8L670,1072.5L659.3,1066.2L637.5,1115.5Z" fill="#f05a24"/>
<path d="M704.5,1147L743.9,1110.1L734.5,1102L764.2,1096.8L762.5,1126.2L753.1,1118.1L720.5,1160.8Z" fill="#f05a24"/>
<path d="M734.5,1196.2L783.8,1175.9L777.5,1165L808,1170L796.2,1197.5L789.9,1186.6L744.5,1215.5Z" fill="#f05a24"/>
<path d="M736.2,1247.5L788.7,1263.9L791.2,1252L810,1273.2L783.8,1287.5L786.3,1275.6L732,1268Z" fill="#f05a24"/>
<path d="M707.5,1290L745.4,1326.8L752.5,1317L760.5,1345.8L731.2,1346.2L738.3,1336.4L693.8,1306.2Z" fill="#f05a24"/>
<path d="M652,1333.8L678.5,1380L688,1373L687.5,1402L659.5,1393.8L669,1386.8L633.8,1346.2Z" fill="#f05a24"/>
<path d="M406.2,1208.8L459.7,1213.8L459.5,1201.2L483.8,1219.2L460,1238.8L459.8,1226.2L406.2,1231.2Z" fill="#f05a24"/>
<path d="M510,1208.2L579.2,1214.7L578.8,1198.8L609.5,1221.2L580,1246.2L579.6,1230.3L510,1236.2Z" fill="#f05a24"/>
<g stroke="#111111" stroke-width="1.3" fill="none"><path d="M308,328 L426.2,315"/><path d="M308,343 L431.5,371.2"/><path d="M365,449.5 L463,414.4"/></g>
<g fill="#111111" stroke="#111111" stroke-width="0.35" font-family="Liberation Sans, sans-serif">
<text x="231.5" y="48.4" font-size="42" font-weight="normal" font-style="normal" textLength="497.5" lengthAdjust="spacingAndGlyphs">Development of Glaucoma</text>
<text x="61" y="153.8" font-size="25.3" font-weight="bold" font-style="normal" textLength="142.3" lengthAdjust="spacingAndGlyphs">Healthy eye</text>
<text x="61" y="567.8" font-size="25.3" font-weight="bold" font-style="normal" textLength="119.4" lengthAdjust="spacingAndGlyphs">Glaucoma</text>
</g><g fill="#111111" stroke="#111111" stroke-width="0.28" font-family="Liberation Sans, sans-serif">
<text x="206.4" y="318.5" font-size="20.6" font-weight="normal" font-style="normal" textLength="69.6" lengthAdjust="spacingAndGlyphs">Flow of</text>
<text x="207" y="345" font-size="20.6" font-weight="normal" font-style="normal" textLength="82.1" lengthAdjust="spacingAndGlyphs">aqueous</text>
<text x="206.9" y="371.8" font-size="20.6" font-weight="normal" font-style="normal" textLength="78.1" lengthAdjust="spacingAndGlyphs">humour</text>
<text x="207.4" y="455" font-size="20.6" font-weight="normal" font-style="normal" textLength="139.5" lengthAdjust="spacingAndGlyphs">Drainage canal</text>
<text x="606.2" y="292" font-size="20.6" font-weight="normal" font-style="normal" textLength="129" lengthAdjust="spacingAndGlyphs">Vitreous body</text>
<text x="97.5" y="736.8" font-size="23" font-weight="normal" font-style="italic" textLength="123.1" lengthAdjust="spacingAndGlyphs">1. Drainage</text>
<text x="96" y="768.8" font-size="23" font-weight="normal" font-style="italic" textLength="153" lengthAdjust="spacingAndGlyphs">canal blocked;</text>
<text x="96" y="800.5" font-size="23" font-weight="normal" font-style="italic" textLength="169" lengthAdjust="spacingAndGlyphs">build-up of fluid</text>
<text x="96.4" y="1219.2" font-size="23" font-weight="normal" font-style="italic" textLength="220.5" lengthAdjust="spacingAndGlyphs">2. Increased pressure</text>
<text x="96" y="1251.2" font-size="23" font-weight="normal" font-style="italic" textLength="243" lengthAdjust="spacingAndGlyphs">damages blood vessels</text>
<text x="96" y="1283" font-size="23" font-weight="normal" font-style="italic" textLength="166" lengthAdjust="spacingAndGlyphs">and optic nerve</text>
</g></svg>
</body></html>
